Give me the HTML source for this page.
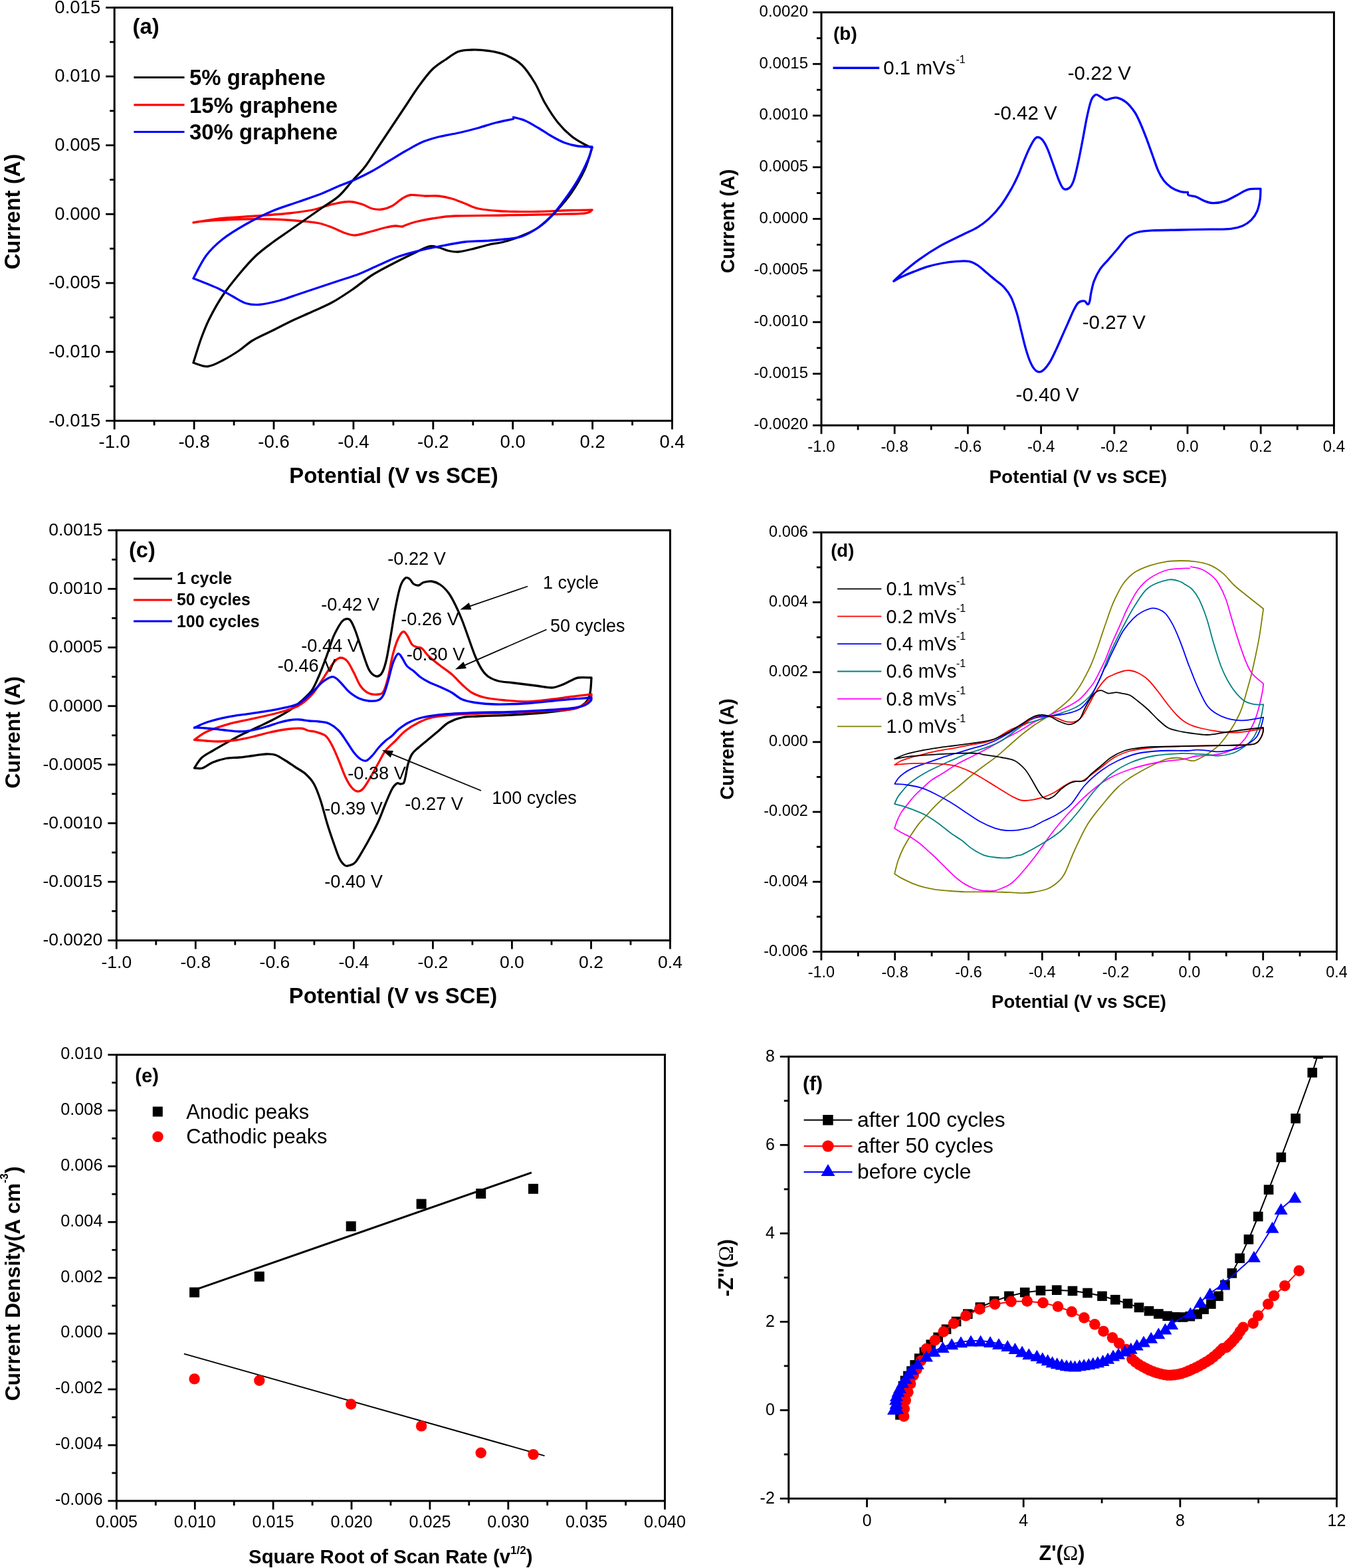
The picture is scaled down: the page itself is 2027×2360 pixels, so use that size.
<!DOCTYPE html><html><head><meta charset="utf-8"><title>Figure</title><style>html,body{margin:0;padding:0;background:#fff;}svg{display:block;}</style></head><body><svg width="2027" height="2360" viewBox="0 0 2027 2360">
<rect width="2027" height="2360" fill="#fff"/>
<rect x="172.2" y="11.4" width="839.3" height="621.9" fill="none" stroke="#000" stroke-width="3"/>
<line x1="172.2" y1="633.3" x2="172.2" y2="646.3" stroke="#000" stroke-width="2.8" stroke-linecap="butt"/>
<line x1="292.1" y1="633.3" x2="292.1" y2="646.3" stroke="#000" stroke-width="2.8" stroke-linecap="butt"/>
<line x1="412" y1="633.3" x2="412" y2="646.3" stroke="#000" stroke-width="2.8" stroke-linecap="butt"/>
<line x1="531.9" y1="633.3" x2="531.9" y2="646.3" stroke="#000" stroke-width="2.8" stroke-linecap="butt"/>
<line x1="651.8" y1="633.3" x2="651.8" y2="646.3" stroke="#000" stroke-width="2.8" stroke-linecap="butt"/>
<line x1="771.7" y1="633.3" x2="771.7" y2="646.3" stroke="#000" stroke-width="2.8" stroke-linecap="butt"/>
<line x1="891.6" y1="633.3" x2="891.6" y2="646.3" stroke="#000" stroke-width="2.8" stroke-linecap="butt"/>
<line x1="1011.5" y1="633.3" x2="1011.5" y2="646.3" stroke="#000" stroke-width="2.8" stroke-linecap="butt"/>
<line x1="232.1" y1="633.3" x2="232.1" y2="640.3" stroke="#000" stroke-width="2.8" stroke-linecap="butt"/>
<line x1="352.1" y1="633.3" x2="352.1" y2="640.3" stroke="#000" stroke-width="2.8" stroke-linecap="butt"/>
<line x1="471.9" y1="633.3" x2="471.9" y2="640.3" stroke="#000" stroke-width="2.8" stroke-linecap="butt"/>
<line x1="591.9" y1="633.3" x2="591.9" y2="640.3" stroke="#000" stroke-width="2.8" stroke-linecap="butt"/>
<line x1="711.8" y1="633.3" x2="711.8" y2="640.3" stroke="#000" stroke-width="2.8" stroke-linecap="butt"/>
<line x1="831.7" y1="633.3" x2="831.7" y2="640.3" stroke="#000" stroke-width="2.8" stroke-linecap="butt"/>
<line x1="951.6" y1="633.3" x2="951.6" y2="640.3" stroke="#000" stroke-width="2.8" stroke-linecap="butt"/>
<line x1="172.2" y1="633.3" x2="159.2" y2="633.3" stroke="#000" stroke-width="2.8" stroke-linecap="butt"/>
<line x1="172.2" y1="529.6" x2="159.2" y2="529.6" stroke="#000" stroke-width="2.8" stroke-linecap="butt"/>
<line x1="172.2" y1="426" x2="159.2" y2="426" stroke="#000" stroke-width="2.8" stroke-linecap="butt"/>
<line x1="172.2" y1="322.3" x2="159.2" y2="322.3" stroke="#000" stroke-width="2.8" stroke-linecap="butt"/>
<line x1="172.2" y1="218.7" x2="159.2" y2="218.7" stroke="#000" stroke-width="2.8" stroke-linecap="butt"/>
<line x1="172.2" y1="115" x2="159.2" y2="115" stroke="#000" stroke-width="2.8" stroke-linecap="butt"/>
<line x1="172.2" y1="11.4" x2="159.2" y2="11.4" stroke="#000" stroke-width="2.8" stroke-linecap="butt"/>
<line x1="172.2" y1="581.5" x2="165.2" y2="581.5" stroke="#000" stroke-width="2.8" stroke-linecap="butt"/>
<line x1="172.2" y1="477.8" x2="165.2" y2="477.8" stroke="#000" stroke-width="2.8" stroke-linecap="butt"/>
<line x1="172.2" y1="374.2" x2="165.2" y2="374.2" stroke="#000" stroke-width="2.8" stroke-linecap="butt"/>
<line x1="172.2" y1="270.5" x2="165.2" y2="270.5" stroke="#000" stroke-width="2.8" stroke-linecap="butt"/>
<line x1="172.2" y1="166.9" x2="165.2" y2="166.9" stroke="#000" stroke-width="2.8" stroke-linecap="butt"/>
<line x1="172.2" y1="63.2" x2="165.2" y2="63.2" stroke="#000" stroke-width="2.8" stroke-linecap="butt"/>
<text x="172.2" y="674.4" font-size="27.5" text-anchor="middle" font-family='"Liberation Sans", Arial, sans-serif'>-1.0</text>
<text x="292.1" y="674.4" font-size="27.5" text-anchor="middle" font-family='"Liberation Sans", Arial, sans-serif'>-0.8</text>
<text x="412" y="674.4" font-size="27.5" text-anchor="middle" font-family='"Liberation Sans", Arial, sans-serif'>-0.6</text>
<text x="531.9" y="674.4" font-size="27.5" text-anchor="middle" font-family='"Liberation Sans", Arial, sans-serif'>-0.4</text>
<text x="651.8" y="674.4" font-size="27.5" text-anchor="middle" font-family='"Liberation Sans", Arial, sans-serif'>-0.2</text>
<text x="771.7" y="674.4" font-size="27.5" text-anchor="middle" font-family='"Liberation Sans", Arial, sans-serif'>0.0</text>
<text x="891.6" y="674.4" font-size="27.5" text-anchor="middle" font-family='"Liberation Sans", Arial, sans-serif'>0.2</text>
<text x="1011.5" y="674.4" font-size="27.5" text-anchor="middle" font-family='"Liberation Sans", Arial, sans-serif'>0.4</text>
<text x="151.2" y="641.5" font-size="27.5" text-anchor="end" font-family='"Liberation Sans", Arial, sans-serif'>-0.015</text>
<text x="151.2" y="537.9" font-size="27.5" text-anchor="end" font-family='"Liberation Sans", Arial, sans-serif'>-0.010</text>
<text x="151.2" y="434.2" font-size="27.5" text-anchor="end" font-family='"Liberation Sans", Arial, sans-serif'>-0.005</text>
<text x="151.2" y="330.6" font-size="27.5" text-anchor="end" font-family='"Liberation Sans", Arial, sans-serif'>0.000</text>
<text x="151.2" y="226.9" font-size="27.5" text-anchor="end" font-family='"Liberation Sans", Arial, sans-serif'>0.005</text>
<text x="151.2" y="123.3" font-size="27.5" text-anchor="end" font-family='"Liberation Sans", Arial, sans-serif'>0.010</text>
<text x="151.2" y="19.6" font-size="27.5" text-anchor="end" font-family='"Liberation Sans", Arial, sans-serif'>0.015</text>
<rect x="1236" y="18.6" width="771.4" height="621.6" fill="none" stroke="#000" stroke-width="3"/>
<line x1="1236" y1="640.2" x2="1236" y2="653.2" stroke="#000" stroke-width="2.8" stroke-linecap="butt"/>
<line x1="1346.2" y1="640.2" x2="1346.2" y2="653.2" stroke="#000" stroke-width="2.8" stroke-linecap="butt"/>
<line x1="1456.4" y1="640.2" x2="1456.4" y2="653.2" stroke="#000" stroke-width="2.8" stroke-linecap="butt"/>
<line x1="1566.6" y1="640.2" x2="1566.6" y2="653.2" stroke="#000" stroke-width="2.8" stroke-linecap="butt"/>
<line x1="1676.8" y1="640.2" x2="1676.8" y2="653.2" stroke="#000" stroke-width="2.8" stroke-linecap="butt"/>
<line x1="1787" y1="640.2" x2="1787" y2="653.2" stroke="#000" stroke-width="2.8" stroke-linecap="butt"/>
<line x1="1897.2" y1="640.2" x2="1897.2" y2="653.2" stroke="#000" stroke-width="2.8" stroke-linecap="butt"/>
<line x1="2007.4" y1="640.2" x2="2007.4" y2="653.2" stroke="#000" stroke-width="2.8" stroke-linecap="butt"/>
<line x1="1291.1" y1="640.2" x2="1291.1" y2="647.2" stroke="#000" stroke-width="2.8" stroke-linecap="butt"/>
<line x1="1401.3" y1="640.2" x2="1401.3" y2="647.2" stroke="#000" stroke-width="2.8" stroke-linecap="butt"/>
<line x1="1511.5" y1="640.2" x2="1511.5" y2="647.2" stroke="#000" stroke-width="2.8" stroke-linecap="butt"/>
<line x1="1621.7" y1="640.2" x2="1621.7" y2="647.2" stroke="#000" stroke-width="2.8" stroke-linecap="butt"/>
<line x1="1731.9" y1="640.2" x2="1731.9" y2="647.2" stroke="#000" stroke-width="2.8" stroke-linecap="butt"/>
<line x1="1842.1" y1="640.2" x2="1842.1" y2="647.2" stroke="#000" stroke-width="2.8" stroke-linecap="butt"/>
<line x1="1952.3" y1="640.2" x2="1952.3" y2="647.2" stroke="#000" stroke-width="2.8" stroke-linecap="butt"/>
<line x1="1236" y1="640.2" x2="1223" y2="640.2" stroke="#000" stroke-width="2.8" stroke-linecap="butt"/>
<line x1="1236" y1="562.5" x2="1223" y2="562.5" stroke="#000" stroke-width="2.8" stroke-linecap="butt"/>
<line x1="1236" y1="484.8" x2="1223" y2="484.8" stroke="#000" stroke-width="2.8" stroke-linecap="butt"/>
<line x1="1236" y1="407.1" x2="1223" y2="407.1" stroke="#000" stroke-width="2.8" stroke-linecap="butt"/>
<line x1="1236" y1="329.4" x2="1223" y2="329.4" stroke="#000" stroke-width="2.8" stroke-linecap="butt"/>
<line x1="1236" y1="251.7" x2="1223" y2="251.7" stroke="#000" stroke-width="2.8" stroke-linecap="butt"/>
<line x1="1236" y1="174" x2="1223" y2="174" stroke="#000" stroke-width="2.8" stroke-linecap="butt"/>
<line x1="1236" y1="96.3" x2="1223" y2="96.3" stroke="#000" stroke-width="2.8" stroke-linecap="butt"/>
<line x1="1236" y1="18.6" x2="1223" y2="18.6" stroke="#000" stroke-width="2.8" stroke-linecap="butt"/>
<line x1="1236" y1="601.4" x2="1229" y2="601.4" stroke="#000" stroke-width="2.8" stroke-linecap="butt"/>
<line x1="1236" y1="523.7" x2="1229" y2="523.7" stroke="#000" stroke-width="2.8" stroke-linecap="butt"/>
<line x1="1236" y1="446" x2="1229" y2="446" stroke="#000" stroke-width="2.8" stroke-linecap="butt"/>
<line x1="1236" y1="368.3" x2="1229" y2="368.3" stroke="#000" stroke-width="2.8" stroke-linecap="butt"/>
<line x1="1236" y1="290.6" x2="1229" y2="290.6" stroke="#000" stroke-width="2.8" stroke-linecap="butt"/>
<line x1="1236" y1="212.9" x2="1229" y2="212.9" stroke="#000" stroke-width="2.8" stroke-linecap="butt"/>
<line x1="1236" y1="135.2" x2="1229" y2="135.2" stroke="#000" stroke-width="2.8" stroke-linecap="butt"/>
<line x1="1236" y1="57.5" x2="1229" y2="57.5" stroke="#000" stroke-width="2.8" stroke-linecap="butt"/>
<text x="1236" y="679.5" font-size="24" text-anchor="middle" font-family='"Liberation Sans", Arial, sans-serif'>-1.0</text>
<text x="1346.2" y="679.5" font-size="24" text-anchor="middle" font-family='"Liberation Sans", Arial, sans-serif'>-0.8</text>
<text x="1456.4" y="679.5" font-size="24" text-anchor="middle" font-family='"Liberation Sans", Arial, sans-serif'>-0.6</text>
<text x="1566.6" y="679.5" font-size="24" text-anchor="middle" font-family='"Liberation Sans", Arial, sans-serif'>-0.4</text>
<text x="1676.8" y="679.5" font-size="24" text-anchor="middle" font-family='"Liberation Sans", Arial, sans-serif'>-0.2</text>
<text x="1787" y="679.5" font-size="24" text-anchor="middle" font-family='"Liberation Sans", Arial, sans-serif'>0.0</text>
<text x="1897.2" y="679.5" font-size="24" text-anchor="middle" font-family='"Liberation Sans", Arial, sans-serif'>0.2</text>
<text x="2007.4" y="679.5" font-size="24" text-anchor="middle" font-family='"Liberation Sans", Arial, sans-serif'>0.4</text>
<text x="1216" y="646.4" font-size="24" text-anchor="end" font-family='"Liberation Sans", Arial, sans-serif'>-0.0020</text>
<text x="1216" y="568.7" font-size="24" text-anchor="end" font-family='"Liberation Sans", Arial, sans-serif'>-0.0015</text>
<text x="1216" y="491" font-size="24" text-anchor="end" font-family='"Liberation Sans", Arial, sans-serif'>-0.0010</text>
<text x="1216" y="413.3" font-size="24" text-anchor="end" font-family='"Liberation Sans", Arial, sans-serif'>-0.0005</text>
<text x="1216" y="335.6" font-size="24" text-anchor="end" font-family='"Liberation Sans", Arial, sans-serif'>0.0000</text>
<text x="1216" y="257.9" font-size="24" text-anchor="end" font-family='"Liberation Sans", Arial, sans-serif'>0.0005</text>
<text x="1216" y="180.2" font-size="24" text-anchor="end" font-family='"Liberation Sans", Arial, sans-serif'>0.0010</text>
<text x="1216" y="102.5" font-size="24" text-anchor="end" font-family='"Liberation Sans", Arial, sans-serif'>0.0015</text>
<text x="1216" y="24.8" font-size="24" text-anchor="end" font-family='"Liberation Sans", Arial, sans-serif'>0.0020</text>
<rect x="175.3" y="798.1" width="833.2" height="617.3" fill="none" stroke="#000" stroke-width="3"/>
<line x1="175.3" y1="1415.4" x2="175.3" y2="1428.4" stroke="#000" stroke-width="2.8" stroke-linecap="butt"/>
<line x1="294.3" y1="1415.4" x2="294.3" y2="1428.4" stroke="#000" stroke-width="2.8" stroke-linecap="butt"/>
<line x1="413.4" y1="1415.4" x2="413.4" y2="1428.4" stroke="#000" stroke-width="2.8" stroke-linecap="butt"/>
<line x1="532.4" y1="1415.4" x2="532.4" y2="1428.4" stroke="#000" stroke-width="2.8" stroke-linecap="butt"/>
<line x1="651.4" y1="1415.4" x2="651.4" y2="1428.4" stroke="#000" stroke-width="2.8" stroke-linecap="butt"/>
<line x1="770.4" y1="1415.4" x2="770.4" y2="1428.4" stroke="#000" stroke-width="2.8" stroke-linecap="butt"/>
<line x1="889.5" y1="1415.4" x2="889.5" y2="1428.4" stroke="#000" stroke-width="2.8" stroke-linecap="butt"/>
<line x1="1008.5" y1="1415.4" x2="1008.5" y2="1428.4" stroke="#000" stroke-width="2.8" stroke-linecap="butt"/>
<line x1="234.8" y1="1415.4" x2="234.8" y2="1422.4" stroke="#000" stroke-width="2.8" stroke-linecap="butt"/>
<line x1="353.8" y1="1415.4" x2="353.8" y2="1422.4" stroke="#000" stroke-width="2.8" stroke-linecap="butt"/>
<line x1="472.9" y1="1415.4" x2="472.9" y2="1422.4" stroke="#000" stroke-width="2.8" stroke-linecap="butt"/>
<line x1="591.9" y1="1415.4" x2="591.9" y2="1422.4" stroke="#000" stroke-width="2.8" stroke-linecap="butt"/>
<line x1="710.9" y1="1415.4" x2="710.9" y2="1422.4" stroke="#000" stroke-width="2.8" stroke-linecap="butt"/>
<line x1="830" y1="1415.4" x2="830" y2="1422.4" stroke="#000" stroke-width="2.8" stroke-linecap="butt"/>
<line x1="949" y1="1415.4" x2="949" y2="1422.4" stroke="#000" stroke-width="2.8" stroke-linecap="butt"/>
<line x1="175.3" y1="1415.4" x2="162.3" y2="1415.4" stroke="#000" stroke-width="2.8" stroke-linecap="butt"/>
<line x1="175.3" y1="1327.2" x2="162.3" y2="1327.2" stroke="#000" stroke-width="2.8" stroke-linecap="butt"/>
<line x1="175.3" y1="1239" x2="162.3" y2="1239" stroke="#000" stroke-width="2.8" stroke-linecap="butt"/>
<line x1="175.3" y1="1150.8" x2="162.3" y2="1150.8" stroke="#000" stroke-width="2.8" stroke-linecap="butt"/>
<line x1="175.3" y1="1062.7" x2="162.3" y2="1062.7" stroke="#000" stroke-width="2.8" stroke-linecap="butt"/>
<line x1="175.3" y1="974.5" x2="162.3" y2="974.5" stroke="#000" stroke-width="2.8" stroke-linecap="butt"/>
<line x1="175.3" y1="886.3" x2="162.3" y2="886.3" stroke="#000" stroke-width="2.8" stroke-linecap="butt"/>
<line x1="175.3" y1="798.1" x2="162.3" y2="798.1" stroke="#000" stroke-width="2.8" stroke-linecap="butt"/>
<line x1="175.3" y1="1371.3" x2="168.3" y2="1371.3" stroke="#000" stroke-width="2.8" stroke-linecap="butt"/>
<line x1="175.3" y1="1283.1" x2="168.3" y2="1283.1" stroke="#000" stroke-width="2.8" stroke-linecap="butt"/>
<line x1="175.3" y1="1194.9" x2="168.3" y2="1194.9" stroke="#000" stroke-width="2.8" stroke-linecap="butt"/>
<line x1="175.3" y1="1106.8" x2="168.3" y2="1106.8" stroke="#000" stroke-width="2.8" stroke-linecap="butt"/>
<line x1="175.3" y1="1018.6" x2="168.3" y2="1018.6" stroke="#000" stroke-width="2.8" stroke-linecap="butt"/>
<line x1="175.3" y1="930.4" x2="168.3" y2="930.4" stroke="#000" stroke-width="2.8" stroke-linecap="butt"/>
<line x1="175.3" y1="842.2" x2="168.3" y2="842.2" stroke="#000" stroke-width="2.8" stroke-linecap="butt"/>
<text x="175.3" y="1456.5" font-size="26.5" text-anchor="middle" font-family='"Liberation Sans", Arial, sans-serif'>-1.0</text>
<text x="294.3" y="1456.5" font-size="26.5" text-anchor="middle" font-family='"Liberation Sans", Arial, sans-serif'>-0.8</text>
<text x="413.4" y="1456.5" font-size="26.5" text-anchor="middle" font-family='"Liberation Sans", Arial, sans-serif'>-0.6</text>
<text x="532.4" y="1456.5" font-size="26.5" text-anchor="middle" font-family='"Liberation Sans", Arial, sans-serif'>-0.4</text>
<text x="651.4" y="1456.5" font-size="26.5" text-anchor="middle" font-family='"Liberation Sans", Arial, sans-serif'>-0.2</text>
<text x="770.4" y="1456.5" font-size="26.5" text-anchor="middle" font-family='"Liberation Sans", Arial, sans-serif'>0.0</text>
<text x="889.5" y="1456.5" font-size="26.5" text-anchor="middle" font-family='"Liberation Sans", Arial, sans-serif'>0.2</text>
<text x="1008.5" y="1456.5" font-size="26.5" text-anchor="middle" font-family='"Liberation Sans", Arial, sans-serif'>0.4</text>
<text x="154.3" y="1423.3" font-size="26.5" text-anchor="end" font-family='"Liberation Sans", Arial, sans-serif'>-0.0020</text>
<text x="154.3" y="1335.1" font-size="26.5" text-anchor="end" font-family='"Liberation Sans", Arial, sans-serif'>-0.0015</text>
<text x="154.3" y="1246.9" font-size="26.5" text-anchor="end" font-family='"Liberation Sans", Arial, sans-serif'>-0.0010</text>
<text x="154.3" y="1158.7" font-size="26.5" text-anchor="end" font-family='"Liberation Sans", Arial, sans-serif'>-0.0005</text>
<text x="154.3" y="1070.5" font-size="26.5" text-anchor="end" font-family='"Liberation Sans", Arial, sans-serif'>0.0000</text>
<text x="154.3" y="982.4" font-size="26.5" text-anchor="end" font-family='"Liberation Sans", Arial, sans-serif'>0.0005</text>
<text x="154.3" y="894.2" font-size="26.5" text-anchor="end" font-family='"Liberation Sans", Arial, sans-serif'>0.0010</text>
<text x="154.3" y="806" font-size="26.5" text-anchor="end" font-family='"Liberation Sans", Arial, sans-serif'>0.0015</text>
<rect x="1235.9" y="801.3" width="775.6" height="631.1" fill="none" stroke="#000" stroke-width="3"/>
<line x1="1235.9" y1="1432.4" x2="1235.9" y2="1445.4" stroke="#000" stroke-width="2.8" stroke-linecap="butt"/>
<line x1="1346.7" y1="1432.4" x2="1346.7" y2="1445.4" stroke="#000" stroke-width="2.8" stroke-linecap="butt"/>
<line x1="1457.5" y1="1432.4" x2="1457.5" y2="1445.4" stroke="#000" stroke-width="2.8" stroke-linecap="butt"/>
<line x1="1568.3" y1="1432.4" x2="1568.3" y2="1445.4" stroke="#000" stroke-width="2.8" stroke-linecap="butt"/>
<line x1="1679.1" y1="1432.4" x2="1679.1" y2="1445.4" stroke="#000" stroke-width="2.8" stroke-linecap="butt"/>
<line x1="1789.9" y1="1432.4" x2="1789.9" y2="1445.4" stroke="#000" stroke-width="2.8" stroke-linecap="butt"/>
<line x1="1900.7" y1="1432.4" x2="1900.7" y2="1445.4" stroke="#000" stroke-width="2.8" stroke-linecap="butt"/>
<line x1="2011.5" y1="1432.4" x2="2011.5" y2="1445.4" stroke="#000" stroke-width="2.8" stroke-linecap="butt"/>
<line x1="1291.3" y1="1432.4" x2="1291.3" y2="1439.4" stroke="#000" stroke-width="2.8" stroke-linecap="butt"/>
<line x1="1402.1" y1="1432.4" x2="1402.1" y2="1439.4" stroke="#000" stroke-width="2.8" stroke-linecap="butt"/>
<line x1="1512.9" y1="1432.4" x2="1512.9" y2="1439.4" stroke="#000" stroke-width="2.8" stroke-linecap="butt"/>
<line x1="1623.7" y1="1432.4" x2="1623.7" y2="1439.4" stroke="#000" stroke-width="2.8" stroke-linecap="butt"/>
<line x1="1734.5" y1="1432.4" x2="1734.5" y2="1439.4" stroke="#000" stroke-width="2.8" stroke-linecap="butt"/>
<line x1="1845.3" y1="1432.4" x2="1845.3" y2="1439.4" stroke="#000" stroke-width="2.8" stroke-linecap="butt"/>
<line x1="1956.1" y1="1432.4" x2="1956.1" y2="1439.4" stroke="#000" stroke-width="2.8" stroke-linecap="butt"/>
<line x1="1235.9" y1="1432.4" x2="1222.9" y2="1432.4" stroke="#000" stroke-width="2.8" stroke-linecap="butt"/>
<line x1="1235.9" y1="1327.2" x2="1222.9" y2="1327.2" stroke="#000" stroke-width="2.8" stroke-linecap="butt"/>
<line x1="1235.9" y1="1222" x2="1222.9" y2="1222" stroke="#000" stroke-width="2.8" stroke-linecap="butt"/>
<line x1="1235.9" y1="1116.8" x2="1222.9" y2="1116.8" stroke="#000" stroke-width="2.8" stroke-linecap="butt"/>
<line x1="1235.9" y1="1011.7" x2="1222.9" y2="1011.7" stroke="#000" stroke-width="2.8" stroke-linecap="butt"/>
<line x1="1235.9" y1="906.5" x2="1222.9" y2="906.5" stroke="#000" stroke-width="2.8" stroke-linecap="butt"/>
<line x1="1235.9" y1="801.3" x2="1222.9" y2="801.3" stroke="#000" stroke-width="2.8" stroke-linecap="butt"/>
<line x1="1235.9" y1="1379.8" x2="1228.9" y2="1379.8" stroke="#000" stroke-width="2.8" stroke-linecap="butt"/>
<line x1="1235.9" y1="1274.6" x2="1228.9" y2="1274.6" stroke="#000" stroke-width="2.8" stroke-linecap="butt"/>
<line x1="1235.9" y1="1169.4" x2="1228.9" y2="1169.4" stroke="#000" stroke-width="2.8" stroke-linecap="butt"/>
<line x1="1235.9" y1="1064.3" x2="1228.9" y2="1064.3" stroke="#000" stroke-width="2.8" stroke-linecap="butt"/>
<line x1="1235.9" y1="959.1" x2="1228.9" y2="959.1" stroke="#000" stroke-width="2.8" stroke-linecap="butt"/>
<line x1="1235.9" y1="853.9" x2="1228.9" y2="853.9" stroke="#000" stroke-width="2.8" stroke-linecap="butt"/>
<text x="1235.9" y="1470.6" font-size="23.5" text-anchor="middle" font-family='"Liberation Sans", Arial, sans-serif'>-1.0</text>
<text x="1346.7" y="1470.6" font-size="23.5" text-anchor="middle" font-family='"Liberation Sans", Arial, sans-serif'>-0.8</text>
<text x="1457.5" y="1470.6" font-size="23.5" text-anchor="middle" font-family='"Liberation Sans", Arial, sans-serif'>-0.6</text>
<text x="1568.3" y="1470.6" font-size="23.5" text-anchor="middle" font-family='"Liberation Sans", Arial, sans-serif'>-0.4</text>
<text x="1679.1" y="1470.6" font-size="23.5" text-anchor="middle" font-family='"Liberation Sans", Arial, sans-serif'>-0.2</text>
<text x="1789.9" y="1470.6" font-size="23.5" text-anchor="middle" font-family='"Liberation Sans", Arial, sans-serif'>0.0</text>
<text x="1900.7" y="1470.6" font-size="23.5" text-anchor="middle" font-family='"Liberation Sans", Arial, sans-serif'>0.2</text>
<text x="2011.5" y="1470.6" font-size="23.5" text-anchor="middle" font-family='"Liberation Sans", Arial, sans-serif'>0.4</text>
<text x="1215.9" y="1438.7" font-size="23.5" text-anchor="end" font-family='"Liberation Sans", Arial, sans-serif'>-0.006</text>
<text x="1215.9" y="1333.5" font-size="23.5" text-anchor="end" font-family='"Liberation Sans", Arial, sans-serif'>-0.004</text>
<text x="1215.9" y="1228.3" font-size="23.5" text-anchor="end" font-family='"Liberation Sans", Arial, sans-serif'>-0.002</text>
<text x="1215.9" y="1123.2" font-size="23.5" text-anchor="end" font-family='"Liberation Sans", Arial, sans-serif'>0.000</text>
<text x="1215.9" y="1018" font-size="23.5" text-anchor="end" font-family='"Liberation Sans", Arial, sans-serif'>0.002</text>
<text x="1215.9" y="912.8" font-size="23.5" text-anchor="end" font-family='"Liberation Sans", Arial, sans-serif'>0.004</text>
<text x="1215.9" y="807.6" font-size="23.5" text-anchor="end" font-family='"Liberation Sans", Arial, sans-serif'>0.006</text>
<rect x="175.4" y="1587.5" width="825.1" height="671.5" fill="none" stroke="#000" stroke-width="3"/>
<line x1="175.4" y1="2259" x2="175.4" y2="2272" stroke="#000" stroke-width="2.8" stroke-linecap="butt"/>
<line x1="293.3" y1="2259" x2="293.3" y2="2272" stroke="#000" stroke-width="2.8" stroke-linecap="butt"/>
<line x1="411.1" y1="2259" x2="411.1" y2="2272" stroke="#000" stroke-width="2.8" stroke-linecap="butt"/>
<line x1="529" y1="2259" x2="529" y2="2272" stroke="#000" stroke-width="2.8" stroke-linecap="butt"/>
<line x1="646.9" y1="2259" x2="646.9" y2="2272" stroke="#000" stroke-width="2.8" stroke-linecap="butt"/>
<line x1="764.8" y1="2259" x2="764.8" y2="2272" stroke="#000" stroke-width="2.8" stroke-linecap="butt"/>
<line x1="882.6" y1="2259" x2="882.6" y2="2272" stroke="#000" stroke-width="2.8" stroke-linecap="butt"/>
<line x1="1000.5" y1="2259" x2="1000.5" y2="2272" stroke="#000" stroke-width="2.8" stroke-linecap="butt"/>
<line x1="234.3" y1="2259" x2="234.3" y2="2266" stroke="#000" stroke-width="2.8" stroke-linecap="butt"/>
<line x1="352.2" y1="2259" x2="352.2" y2="2266" stroke="#000" stroke-width="2.8" stroke-linecap="butt"/>
<line x1="470.1" y1="2259" x2="470.1" y2="2266" stroke="#000" stroke-width="2.8" stroke-linecap="butt"/>
<line x1="587.9" y1="2259" x2="587.9" y2="2266" stroke="#000" stroke-width="2.8" stroke-linecap="butt"/>
<line x1="705.8" y1="2259" x2="705.8" y2="2266" stroke="#000" stroke-width="2.8" stroke-linecap="butt"/>
<line x1="823.7" y1="2259" x2="823.7" y2="2266" stroke="#000" stroke-width="2.8" stroke-linecap="butt"/>
<line x1="941.6" y1="2259" x2="941.6" y2="2266" stroke="#000" stroke-width="2.8" stroke-linecap="butt"/>
<line x1="175.4" y1="2259" x2="162.4" y2="2259" stroke="#000" stroke-width="2.8" stroke-linecap="butt"/>
<line x1="175.4" y1="2175.1" x2="162.4" y2="2175.1" stroke="#000" stroke-width="2.8" stroke-linecap="butt"/>
<line x1="175.4" y1="2091.1" x2="162.4" y2="2091.1" stroke="#000" stroke-width="2.8" stroke-linecap="butt"/>
<line x1="175.4" y1="2007.2" x2="162.4" y2="2007.2" stroke="#000" stroke-width="2.8" stroke-linecap="butt"/>
<line x1="175.4" y1="1923.2" x2="162.4" y2="1923.2" stroke="#000" stroke-width="2.8" stroke-linecap="butt"/>
<line x1="175.4" y1="1839.3" x2="162.4" y2="1839.3" stroke="#000" stroke-width="2.8" stroke-linecap="butt"/>
<line x1="175.4" y1="1755.4" x2="162.4" y2="1755.4" stroke="#000" stroke-width="2.8" stroke-linecap="butt"/>
<line x1="175.4" y1="1671.4" x2="162.4" y2="1671.4" stroke="#000" stroke-width="2.8" stroke-linecap="butt"/>
<line x1="175.4" y1="1587.5" x2="162.4" y2="1587.5" stroke="#000" stroke-width="2.8" stroke-linecap="butt"/>
<line x1="175.4" y1="2217" x2="168.4" y2="2217" stroke="#000" stroke-width="2.8" stroke-linecap="butt"/>
<line x1="175.4" y1="2133.1" x2="168.4" y2="2133.1" stroke="#000" stroke-width="2.8" stroke-linecap="butt"/>
<line x1="175.4" y1="2049.2" x2="168.4" y2="2049.2" stroke="#000" stroke-width="2.8" stroke-linecap="butt"/>
<line x1="175.4" y1="1965.2" x2="168.4" y2="1965.2" stroke="#000" stroke-width="2.8" stroke-linecap="butt"/>
<line x1="175.4" y1="1881.3" x2="168.4" y2="1881.3" stroke="#000" stroke-width="2.8" stroke-linecap="butt"/>
<line x1="175.4" y1="1797.3" x2="168.4" y2="1797.3" stroke="#000" stroke-width="2.8" stroke-linecap="butt"/>
<line x1="175.4" y1="1713.4" x2="168.4" y2="1713.4" stroke="#000" stroke-width="2.8" stroke-linecap="butt"/>
<line x1="175.4" y1="1629.5" x2="168.4" y2="1629.5" stroke="#000" stroke-width="2.8" stroke-linecap="butt"/>
<text x="175.4" y="2299.3" font-size="25.2" text-anchor="middle" font-family='"Liberation Sans", Arial, sans-serif'>0.005</text>
<text x="293.3" y="2299.3" font-size="25.2" text-anchor="middle" font-family='"Liberation Sans", Arial, sans-serif'>0.010</text>
<text x="411.1" y="2299.3" font-size="25.2" text-anchor="middle" font-family='"Liberation Sans", Arial, sans-serif'>0.015</text>
<text x="529" y="2299.3" font-size="25.2" text-anchor="middle" font-family='"Liberation Sans", Arial, sans-serif'>0.020</text>
<text x="646.9" y="2299.3" font-size="25.2" text-anchor="middle" font-family='"Liberation Sans", Arial, sans-serif'>0.025</text>
<text x="764.8" y="2299.3" font-size="25.2" text-anchor="middle" font-family='"Liberation Sans", Arial, sans-serif'>0.030</text>
<text x="882.6" y="2299.3" font-size="25.2" text-anchor="middle" font-family='"Liberation Sans", Arial, sans-serif'>0.035</text>
<text x="1000.5" y="2299.3" font-size="25.2" text-anchor="middle" font-family='"Liberation Sans", Arial, sans-serif'>0.040</text>
<text x="154.4" y="2265.2" font-size="25.2" text-anchor="end" font-family='"Liberation Sans", Arial, sans-serif'>-0.006</text>
<text x="154.4" y="2181.3" font-size="25.2" text-anchor="end" font-family='"Liberation Sans", Arial, sans-serif'>-0.004</text>
<text x="154.4" y="2097.3" font-size="25.2" text-anchor="end" font-family='"Liberation Sans", Arial, sans-serif'>-0.002</text>
<text x="154.4" y="2013.4" font-size="25.2" text-anchor="end" font-family='"Liberation Sans", Arial, sans-serif'>0.000</text>
<text x="154.4" y="1929.5" font-size="25.2" text-anchor="end" font-family='"Liberation Sans", Arial, sans-serif'>0.002</text>
<text x="154.4" y="1845.5" font-size="25.2" text-anchor="end" font-family='"Liberation Sans", Arial, sans-serif'>0.004</text>
<text x="154.4" y="1761.6" font-size="25.2" text-anchor="end" font-family='"Liberation Sans", Arial, sans-serif'>0.006</text>
<text x="154.4" y="1677.7" font-size="25.2" text-anchor="end" font-family='"Liberation Sans", Arial, sans-serif'>0.008</text>
<text x="154.4" y="1593.7" font-size="25.2" text-anchor="end" font-family='"Liberation Sans", Arial, sans-serif'>0.010</text>
<rect x="1186.8" y="1590.3" width="824.7" height="665.2" fill="none" stroke="#000" stroke-width="3"/>
<line x1="1304.6" y1="2255.5" x2="1304.6" y2="2268.5" stroke="#000" stroke-width="2.8" stroke-linecap="butt"/>
<line x1="1540.2" y1="2255.5" x2="1540.2" y2="2268.5" stroke="#000" stroke-width="2.8" stroke-linecap="butt"/>
<line x1="1775.9" y1="2255.5" x2="1775.9" y2="2268.5" stroke="#000" stroke-width="2.8" stroke-linecap="butt"/>
<line x1="2011.5" y1="2255.5" x2="2011.5" y2="2268.5" stroke="#000" stroke-width="2.8" stroke-linecap="butt"/>
<line x1="1186.8" y1="2255.5" x2="1186.8" y2="2262.5" stroke="#000" stroke-width="2.8" stroke-linecap="butt"/>
<line x1="1422.4" y1="2255.5" x2="1422.4" y2="2262.5" stroke="#000" stroke-width="2.8" stroke-linecap="butt"/>
<line x1="1658.1" y1="2255.5" x2="1658.1" y2="2262.5" stroke="#000" stroke-width="2.8" stroke-linecap="butt"/>
<line x1="1893.7" y1="2255.5" x2="1893.7" y2="2262.5" stroke="#000" stroke-width="2.8" stroke-linecap="butt"/>
<line x1="1186.8" y1="2255.5" x2="1173.8" y2="2255.5" stroke="#000" stroke-width="2.8" stroke-linecap="butt"/>
<line x1="1186.8" y1="2122.5" x2="1173.8" y2="2122.5" stroke="#000" stroke-width="2.8" stroke-linecap="butt"/>
<line x1="1186.8" y1="1989.4" x2="1173.8" y2="1989.4" stroke="#000" stroke-width="2.8" stroke-linecap="butt"/>
<line x1="1186.8" y1="1856.4" x2="1173.8" y2="1856.4" stroke="#000" stroke-width="2.8" stroke-linecap="butt"/>
<line x1="1186.8" y1="1723.3" x2="1173.8" y2="1723.3" stroke="#000" stroke-width="2.8" stroke-linecap="butt"/>
<line x1="1186.8" y1="1590.3" x2="1173.8" y2="1590.3" stroke="#000" stroke-width="2.8" stroke-linecap="butt"/>
<line x1="1186.8" y1="2189" x2="1179.8" y2="2189" stroke="#000" stroke-width="2.8" stroke-linecap="butt"/>
<line x1="1186.8" y1="2055.9" x2="1179.8" y2="2055.9" stroke="#000" stroke-width="2.8" stroke-linecap="butt"/>
<line x1="1186.8" y1="1922.9" x2="1179.8" y2="1922.9" stroke="#000" stroke-width="2.8" stroke-linecap="butt"/>
<line x1="1186.8" y1="1789.9" x2="1179.8" y2="1789.9" stroke="#000" stroke-width="2.8" stroke-linecap="butt"/>
<line x1="1186.8" y1="1656.8" x2="1179.8" y2="1656.8" stroke="#000" stroke-width="2.8" stroke-linecap="butt"/>
<text x="1304.6" y="2296.8" font-size="25" text-anchor="middle" font-family='"Liberation Sans", Arial, sans-serif'>0</text>
<text x="1540.2" y="2296.8" font-size="25" text-anchor="middle" font-family='"Liberation Sans", Arial, sans-serif'>4</text>
<text x="1775.9" y="2296.8" font-size="25" text-anchor="middle" font-family='"Liberation Sans", Arial, sans-serif'>8</text>
<text x="2011.5" y="2296.8" font-size="25" text-anchor="middle" font-family='"Liberation Sans", Arial, sans-serif'>12</text>
<text x="1165.8" y="2262.6" font-size="25" text-anchor="end" font-family='"Liberation Sans", Arial, sans-serif'>-2</text>
<text x="1165.8" y="2129.6" font-size="25" text-anchor="end" font-family='"Liberation Sans", Arial, sans-serif'>0</text>
<text x="1165.8" y="1996.6" font-size="25" text-anchor="end" font-family='"Liberation Sans", Arial, sans-serif'>2</text>
<text x="1165.8" y="1863.5" font-size="25" text-anchor="end" font-family='"Liberation Sans", Arial, sans-serif'>4</text>
<text x="1165.8" y="1730.5" font-size="25" text-anchor="end" font-family='"Liberation Sans", Arial, sans-serif'>6</text>
<text x="1165.8" y="1597.5" font-size="25" text-anchor="end" font-family='"Liberation Sans", Arial, sans-serif'>8</text>
<text transform="translate(29.5,318.5) rotate(-90)" x="0" y="0" font-size="33" font-weight="bold" text-anchor="middle" font-family='"Liberation Sans", Arial, sans-serif'>Current (A)</text>
<text x="592.5" y="727" font-size="32.9" text-anchor="middle" font-weight="bold" font-family='"Liberation Sans", Arial, sans-serif'>Potential (V vs SCE)</text>
<text transform="translate(1104.8,333) rotate(-90)" x="0" y="0" font-size="29.7" font-weight="bold" text-anchor="middle" font-family='"Liberation Sans", Arial, sans-serif'>Current (A)</text>
<text x="1622.2" y="726.7" font-size="28" text-anchor="middle" font-weight="bold" font-family='"Liberation Sans", Arial, sans-serif'>Potential (V vs SCE)</text>
<text transform="translate(29.7,1102.2) rotate(-90)" x="0" y="0" font-size="32" font-weight="bold" text-anchor="middle" font-family='"Liberation Sans", Arial, sans-serif'>Current (A)</text>
<text x="591.5" y="1510.4" font-size="32.8" text-anchor="middle" font-weight="bold" font-family='"Liberation Sans", Arial, sans-serif'>Potential (V vs SCE)</text>
<text transform="translate(1104.2,1127.6) rotate(-90)" x="0" y="0" font-size="28.9" font-weight="bold" text-anchor="middle" font-family='"Liberation Sans", Arial, sans-serif'>Current (A)</text>
<text x="1623.5" y="1517.4" font-size="27.5" text-anchor="middle" font-weight="bold" font-family='"Liberation Sans", Arial, sans-serif'>Potential (V vs SCE)</text>
<text transform="translate(29.5,1932) rotate(-90)" x="0" y="0" font-size="32" font-weight="bold" text-anchor="middle" font-family='"Liberation Sans", Arial, sans-serif'>Current Density(A cm<tspan dy="-18" font-size="16.5">-3</tspan><tspan dy="18">)</tspan></text>
<text x="587.8" y="2352.7" font-size="29.3" text-anchor="middle" font-weight="bold" font-family='"Liberation Sans", Arial, sans-serif'>Square Root of Scan Rate (v<tspan dy="-14" font-size="17">1/2</tspan><tspan dy="14">)</tspan></text>
<text transform="translate(1103.1,1908.3) rotate(-90)" x="0" y="0" font-size="30.6" font-weight="bold" text-anchor="middle" font-family='"Liberation Sans", Arial, sans-serif'>-Z''(<tspan font-family='"Liberation Serif", "Times New Roman", serif' font-weight="normal">&#937;</tspan>)</text>
<text x="1598" y="2347.9" font-size="30.6" text-anchor="middle" font-weight="bold" font-family='"Liberation Sans", Arial, sans-serif'>Z'(<tspan font-family='"Liberation Serif", "Times New Roman", serif' font-weight="normal">&#937;</tspan>)</text>
<text x="199.5" y="51.3" font-size="33" text-anchor="start" font-weight="bold" font-family='"Liberation Sans", Arial, sans-serif'>(a)</text>
<text x="1254" y="59.7" font-size="28" text-anchor="start" font-weight="bold" font-family='"Liberation Sans", Arial, sans-serif'>(b)</text>
<text x="194" y="838.9" font-size="32.5" text-anchor="start" font-weight="bold" font-family='"Liberation Sans", Arial, sans-serif'>(c)</text>
<text x="1250.2" y="837.5" font-size="27.5" text-anchor="start" font-weight="bold" font-family='"Liberation Sans", Arial, sans-serif'>(d)</text>
<text x="203.2" y="1628.5" font-size="29.2" text-anchor="start" font-weight="bold" font-family='"Liberation Sans", Arial, sans-serif'>(e)</text>
<text x="1208" y="1640.6" font-size="30.2" text-anchor="start" font-weight="bold" font-family='"Liberation Sans", Arial, sans-serif'>(f)</text>
<path d="M291,335 C298.3,333.9 319.3,330.2 335,328.5 C350.7,326.8 368.3,326.2 385,325 C401.7,323.8 420.8,322.5 435,321 C449.2,319.5 459.2,318.2 470,316 C480.8,313.8 490.8,309.6 500,307.5 C509.2,305.4 517.5,303.5 525,303.5 C532.5,303.5 539.2,305.8 545,307.5 C550.8,309.2 555,312.8 560,314 C565,315.2 570,315.7 575,315 C580,314.3 585,312.7 590,310 C595,307.3 600.4,301.8 605,299 C609.6,296.2 611.7,294.2 617.5,293.5 C623.3,292.8 632.9,294.8 640,295 C647.1,295.2 653.3,294.3 660,295 C666.7,295.7 673.3,297.1 680,299 C686.7,300.9 693.3,304 700,306.5 C706.7,309 711.7,312.2 720,314 C728.3,315.8 740.8,316.8 750,317.5 C759.2,318.2 765,318.3 775,318.5 C785,318.7 795.8,318.8 810,318.5 C824.2,318.2 846.5,316.9 860,316.5 C873.5,316.1 885.8,316.1 891,316 M891,316 C889.2,316.8 889.3,319.9 880,321 C870.7,322.1 855,322 835,322.5 C815,323 785,323.6 760,324 C735,324.4 703.3,324.2 685,325 C666.7,325.8 660,327.5 650,329 C640,330.5 631.7,332.3 625,334 C618.3,335.7 613.3,337.8 610,339 C606.7,340.2 607.5,340.8 605,341 C602.5,341.2 599.2,339.8 595,340 C590.8,340.2 585.8,341.2 580,342.5 C574.2,343.8 567.5,346.1 560,348 C552.5,349.9 541.7,353.5 535,354 C528.3,354.5 525.8,352.9 520,351 C514.2,349.1 506.7,345 500,342.5 C493.3,340 488.3,337.7 480,336 C471.7,334.3 461.7,333.5 450,332.5 C438.3,331.5 425,330.4 410,330 C395,329.6 376.7,329.6 360,330 C343.3,330.4 321.5,331.7 310,332.5 C298.5,333.3 294.2,334.6 291,335" fill="none" stroke="#ff0000" stroke-width="3.3" stroke-linejoin="round" stroke-linecap="round"/>
<path d="M291,546 C294.6,546.9 305.2,552.1 312.5,551.5 C319.8,550.9 327.1,546.5 335,542.5 C342.9,538.5 352.5,532.5 360,527.5 C367.5,522.5 371.7,517.5 380,512.5 C388.3,507.5 400,502.5 410,497.5 C420,492.5 430,487.2 440,482.5 C450,477.8 460,473.6 470,469 C480,464.4 490,460.5 500,455 C510,449.5 520,442.8 530,436 C540,429.2 550,420.4 560,414 C570,407.6 580,402.8 590,397.5 C600,392.2 610.8,386.9 620,382.5 C629.2,378.1 638.3,372.7 645,371 C651.7,369.3 655,371.4 660,372.5 C665,373.6 670,376.4 675,377.5 C680,378.6 684.2,379.4 690,379 C695.8,378.6 702.5,376.8 710,375 C717.5,373.2 726.7,370.4 735,368.5 C743.3,366.6 751.7,365.8 760,363.5 C768.3,361.2 776.7,358.5 785,355 C793.3,351.5 801.7,348.3 810,342.5 C818.3,336.7 826.7,328.8 835,320 C843.3,311.2 852.5,300.8 860,290 C867.5,279.2 874.8,266.2 880,255 C885.2,243.8 889.2,227.9 891,222.5 M891,222.5 C889.2,221.7 885.2,220.4 880,217.5 C874.8,214.6 866.7,210.4 860,205 C853.3,199.6 846.7,193.3 840,185 C833.3,176.7 825.8,165 820,155 C814.2,145 810.8,134.6 805,125 C799.2,115.4 792.5,104.6 785,97.5 C777.5,90.4 768.3,86 760,82.5 C751.7,79 743.3,77.8 735,76.5 C726.7,75.2 717.5,74.8 710,75 C702.5,75.2 696.7,75 690,77.5 C683.3,80 676.7,85.4 670,90 C663.3,94.6 656.7,98.3 650,105 C643.3,111.7 636.7,120.8 630,130 C623.3,139.2 616.7,150 610,160 C603.3,170 596.7,180 590,190 C583.3,200 576.7,210 570,220 C563.3,230 556.7,241.2 550,250 C543.3,258.8 536.7,265 530,272.5 C523.3,280 517.5,288.3 510,295 C502.5,301.7 493.3,306.7 485,312.5 C476.7,318.3 468.3,324.2 460,330 C451.7,335.8 443.3,341.7 435,347.5 C426.7,353.3 418.3,358.8 410,365 C401.7,371.2 393.3,377.1 385,385 C376.7,392.9 368.3,402.5 360,412.5 C351.7,422.5 342.5,433.8 335,445 C327.5,456.2 320.4,469.2 315,480 C309.6,490.8 306.5,499 302.5,510 C298.5,521 292.9,540 291,546" fill="none" stroke="#000000" stroke-width="3.3" stroke-linejoin="round" stroke-linecap="round"/>
<path d="M291,419 C294.2,413.3 302.7,394.8 310,385 C317.3,375.2 325,367.9 335,360 C345,352.1 357.5,344.6 370,337.5 C382.5,330.4 396.7,323.2 410,317.5 C423.3,311.8 437.5,307.9 450,303.5 C462.5,299.1 475,294.9 485,291 C495,287.1 501.7,283.5 510,280 C518.3,276.5 526.7,273.8 535,270 C543.3,266.2 551.7,262.1 560,257.5 C568.3,252.9 576.7,247.5 585,242.5 C593.3,237.5 601.7,232.2 610,227.5 C618.3,222.8 626.7,217.6 635,214 C643.3,210.4 650.8,208.3 660,206 C669.2,203.7 680,202.2 690,200 C700,197.8 710.8,195 720,192.5 C729.2,190 736.2,187.2 745,185 C753.8,182.8 767.9,180 772.5,179 M772.5,176.5 C775.4,177.3 783.8,178.8 790,181.5 C796.2,184.2 803.3,188.6 810,192.5 C816.7,196.4 823.3,201.2 830,205 C836.7,208.8 843.3,212.5 850,215 C856.7,217.5 863.2,219 870,220 C876.8,221 887.5,220.8 891,221 M891,221 C890,224.2 888.5,231.8 885,240 C881.5,248.2 875.8,260 870,270 C864.2,280 856.7,290.8 850,300 C843.3,309.2 836.7,317.9 830,325 C823.3,332.1 817.5,337.3 810,342.5 C802.5,347.7 793.3,353.1 785,356 C776.7,358.9 769.2,358.9 760,360 C750.8,361.1 740,361.8 730,362.5 C720,363.2 711.7,362.6 700,364 C688.3,365.4 671.7,368.8 660,371 C648.3,373.2 640,375 630,377.5 C620,380 610,382.4 600,386 C590,389.6 580,394.6 570,399 C560,403.4 550,408.6 540,412.5 C530,416.4 520,419.2 510,422.5 C500,425.8 490,429.2 480,432.5 C470,435.8 460,439.2 450,442.5 C440,445.8 430,449.8 420,452.5 C410,455.2 398.3,457.8 390,458.5 C381.7,459.2 376.7,458.6 370,456.5 C363.3,454.4 356.7,449.6 350,446 C343.3,442.4 336.7,438.2 330,435 C323.3,431.8 316.5,429.2 310,426.5 C303.5,423.8 294.2,420.2 291,419" fill="none" stroke="#0000ff" stroke-width="3.3" stroke-linejoin="round" stroke-linecap="round"/>
<path d="M1344.8,423.2 C1347.6,420.6 1355,413.3 1361.5,407.8 C1367.9,402.3 1374.6,396.5 1383.4,390.3 C1392.1,384.1 1403.1,376.8 1414,370.6 C1425,364.4 1439.6,357.8 1449.1,353 C1458.6,348.3 1464.4,346.1 1471,342.1 C1477.6,338.1 1482.7,334.4 1488.5,328.9 C1494.4,323.5 1500.6,316.5 1506.1,309.2 C1511.6,301.9 1517,292.8 1521.4,285.1 C1525.8,277.4 1529.1,270.5 1532.4,263.2 C1535.7,255.9 1538.2,248.2 1541.1,241.3 C1544.1,234.4 1547,227.2 1549.9,221.6 C1552.8,216 1555.7,209.6 1558.7,207.6 C1561.6,205.5 1564.5,206.6 1567.4,209.3 C1570.3,212 1573.3,217.3 1576.2,223.8 C1579.1,230.2 1582,239.8 1585,247.9 C1587.9,255.9 1591.2,266 1593.7,272 C1596.3,278 1597.7,282 1600.3,283.8 C1602.8,285.6 1606.5,284.9 1609.1,282.9 C1611.6,281 1613.4,278.2 1615.6,272 C1617.8,265.8 1620,255.5 1622.2,245.7 C1624.4,235.8 1626.6,224.1 1628.8,212.8 C1631,201.5 1633.2,188 1635.3,177.8 C1637.5,167.5 1639.7,157.3 1641.9,151.5 C1644.1,145.6 1646.3,143.8 1648.5,142.7 C1650.7,141.6 1652.5,143.6 1655.1,144.9 C1657.6,146.1 1660.9,149.6 1663.8,150.1 C1666.8,150.7 1669.7,148.5 1672.6,148 C1675.5,147.4 1677.7,146.1 1681.4,147.1 C1685,148 1690.1,150 1694.5,153.7 C1698.9,157.3 1704,163.5 1707.7,169 C1711.3,174.5 1713.5,179.9 1716.4,186.5 C1719.3,193.1 1722.3,200.8 1725.2,208.4 C1728.1,216.1 1731,224.5 1733.9,232.5 C1736.9,240.6 1739.8,250.1 1742.7,256.6 C1745.6,263.2 1748.2,267.7 1751.5,272 C1754.8,276.2 1758.4,279.3 1762.4,282.1 C1766.4,284.8 1771.4,286.9 1775.6,288.2 C1779.7,289.4 1785.4,289.3 1787.4,289.5 M1787.4,289.5 C1787.6,290.2 1786.7,292.8 1788.7,293.9 C1790.8,295 1795.7,294.6 1799.7,296.1 C1803.7,297.5 1808.4,301 1812.8,302.6 C1817.2,304.3 1820.9,305.7 1826,305.7 C1831.1,305.7 1837.7,304.6 1843.5,302.6 C1849.3,300.7 1855.2,296.8 1861,293.9 C1866.9,291 1872.6,286.7 1878.6,285.1 C1884.5,283.5 1893.9,284.4 1897,284.2 M1897,284.2 C1896.8,286.9 1897,294.8 1896.1,300.5 C1895.2,306.1 1893.9,312.9 1891.7,318 C1889.5,323.1 1886.6,327.5 1882.9,331.1 C1879.3,334.8 1874.9,337.7 1869.8,339.9 C1864.7,342.1 1860.3,343.4 1852.3,344.3 C1844.2,345.2 1834,344.9 1821.6,345.2 C1809.2,345.4 1792.4,345.7 1777.8,346 C1763.2,346.3 1744.9,346.3 1733.9,346.9 C1723,347.5 1717.9,348.1 1712,349.5 C1706.2,350.9 1702.5,352.8 1698.9,355.2 C1695.2,357.6 1693,360.7 1690.1,364 C1687.2,367.3 1685,370.6 1681.4,375 C1677.7,379.3 1672.6,385.2 1668.2,390.3 C1663.8,395.4 1658.7,400.1 1655.1,405.6 C1651.4,411.1 1648.5,417.3 1646.3,423.2 C1644.1,429 1643,435.6 1641.9,440.7 C1640.8,445.8 1640.6,450.9 1639.7,453.8 C1638.9,456.8 1637.8,458.2 1636.7,458.2 C1635.6,458.2 1634.5,454.7 1633.2,453.8 C1631.8,453 1630.6,452.6 1628.8,453 C1626.9,453.3 1624.4,453.7 1622.2,456 C1620,458.4 1618.2,461.9 1615.6,467 C1613.1,472.1 1609.8,480.1 1606.9,486.7 C1603.9,493.3 1601,499.8 1598.1,506.4 C1595.2,513 1592.3,519.9 1589.3,526.1 C1586.4,532.3 1583.5,538.8 1580.6,543.7 C1577.6,548.6 1574.6,552.8 1571.8,555.5 C1569,558.2 1566.5,559.9 1563.9,559.9 C1561.4,559.9 1558.8,558.2 1556.5,555.5 C1554.1,552.8 1552.1,548.9 1549.9,543.7 C1547.7,538.4 1545.5,531.6 1543.3,523.9 C1541.1,516.3 1538.9,506.4 1536.7,497.7 C1534.6,488.9 1532.7,479.8 1530.2,471.4 C1527.6,463 1524.7,453.8 1521.4,447.3 C1518.1,440.7 1514.5,436.3 1510.5,431.9 C1506.4,427.5 1501.7,424.6 1497.3,421 C1492.9,417.3 1488.5,413.7 1484.2,410 C1479.8,406.4 1475.4,401.8 1471,399.1 C1466.6,396.3 1463,394.3 1457.9,393.4 C1452.8,392.4 1446.9,392.9 1440.3,393.4 C1433.8,393.8 1425.7,394.7 1418.4,396 C1411.1,397.3 1403.8,399.1 1396.5,401.2 C1389.2,403.4 1381.2,406.6 1374.6,409.1 C1368,411.7 1362,414.2 1357.1,416.6 C1352.1,418.9 1346.9,422.1 1344.8,423.2" fill="none" stroke="#0000ff" stroke-width="3.3" stroke-linejoin="round" stroke-linecap="round"/>
<path d="M292.5,1156 C294.3,1153.4 298.9,1144.8 303.5,1140.5 C308.1,1136.2 313.4,1133.9 320,1130 C326.6,1126.1 335.4,1121.1 342.9,1116.9 C350.4,1112.7 357.1,1108.9 365,1105 C372.9,1101.1 381.8,1097.3 390.1,1093.3 C398.4,1089.3 407.1,1085.2 415,1081 C422.9,1076.8 431,1072.3 437.3,1068.1 C443.6,1063.8 447.8,1060.2 453,1055.5 C458.2,1050.8 464.5,1045.8 468.8,1039.8 C473.1,1033.8 476,1026.2 479,1019.5 C482,1012.8 484.4,1006.2 487,999.5 C489.6,992.8 492.2,985.6 494.5,979 C496.8,972.4 498.8,965.5 501,960 C503.2,954.5 505.7,950 508,945.8 C510.3,941.6 512.8,937.4 515,935 C517.2,932.6 519.2,931.7 521.3,931.5 C523.4,931.3 525.2,930.9 527.5,934 C529.8,937.1 532.1,942.3 535,950 C537.9,957.7 541.7,970.4 545,980 C548.3,989.6 551.7,1001.2 555,1007.5 C558.3,1013.8 561.8,1016.4 565,1017.5 C568.2,1018.6 571.3,1017.8 574,1014 C576.7,1010.2 578.8,1004 581,995 C583.2,986 585.2,973.3 587.5,960 C589.8,946.7 592.5,927.9 595,915 C597.5,902.1 600,890 602.5,882.5 C605,875 607.7,871.8 610,870 C612.3,868.2 614.4,870 616.5,871.5 C618.6,873 620.2,877.4 622.5,879 C624.8,880.6 627.5,881.4 630,881 C632.5,880.6 634.2,877.5 637.5,876.5 C640.8,875.5 645.8,874.4 650,875 C654.2,875.6 658.3,877.1 662.5,880 C666.7,882.9 671.2,887.5 675,892.5 C678.8,897.5 681.7,903.3 685,910 C688.3,916.7 691.7,924.2 695,932.5 C698.3,940.8 701.7,950.8 705,960 C708.3,969.2 711.7,979.6 715,987.5 C718.3,995.4 721.7,1002.3 725,1007.5 C728.3,1012.7 730.8,1015.6 735,1018.5 C739.2,1021.4 744.2,1023.5 750,1025 C755.8,1026.5 763.3,1026.7 770,1027.5 C776.7,1028.3 783.3,1029.2 790,1030 C796.7,1030.8 803.3,1031.7 810,1032.5 C816.7,1033.3 824.2,1035.2 830,1035 C835.8,1034.8 840,1032.8 845,1031 C850,1029.2 855.8,1025.8 860,1024 C864.2,1022.2 865,1020.7 870,1020 C875,1019.3 886.7,1020 890,1020 M890,1020 C889.8,1023.3 889.3,1034.6 888.5,1040 C887.7,1045.4 887.2,1048.8 885,1052.5 C882.8,1056.2 879.2,1060 875,1062.5 C870.8,1065 869.2,1065.8 860,1067.5 C850.8,1069.2 835,1071.1 820,1072.5 C805,1073.9 786.7,1075.1 770,1076 C753.3,1076.9 732.5,1077.3 720,1078 C707.5,1078.7 702.5,1078.4 695,1080 C687.5,1081.6 680.8,1084.2 675,1087.5 C669.2,1090.8 665,1095.8 660,1100 C655,1104.2 650,1108.3 645,1112.5 C640,1116.7 634.2,1121.2 630,1125 C625.8,1128.8 622.7,1130.8 620,1135 C617.3,1139.2 615.7,1144.2 614,1150 C612.3,1155.8 611.1,1165.2 610,1170 C608.9,1174.8 608.8,1176.8 607.5,1178.5 C606.2,1180.2 604.2,1179.9 602.5,1180 C600.8,1180.1 599.6,1177.8 597.5,1179 C595.4,1180.2 592.9,1182.3 590,1187.5 C587.1,1192.7 583.3,1202.1 580,1210 C576.7,1217.9 573.3,1227.5 570,1235 C566.7,1242.5 563.8,1247.9 560,1255 C556.2,1262.1 551.7,1270.4 547.5,1277.5 C543.3,1284.6 538.6,1293.3 535,1297.5 C531.4,1301.7 528.7,1301.7 526,1302.5 C523.3,1303.3 521.5,1304.2 519,1302.5 C516.5,1300.8 513.8,1297.9 511,1292.5 C508.2,1287.1 505.6,1278.8 502.5,1270 C499.4,1261.2 495.8,1250.8 492.5,1240 C489.2,1229.2 485.8,1215 482.5,1205 C479.2,1195 476.2,1186.7 472.5,1180 C468.8,1173.3 464.6,1169.2 460,1165 C455.4,1160.8 450,1158.3 445,1155 C440,1151.7 435,1148.1 430,1145 C425,1141.9 420,1138.2 415,1136.5 C410,1134.8 405.8,1134.8 400,1135 C394.2,1135.2 386.7,1136.7 380,1137.5 C373.3,1138.3 366.7,1139.3 360,1140 C353.3,1140.7 346.7,1140.2 340,1141.5 C333.3,1142.8 325.8,1145.1 320,1147.5 C314.2,1149.9 309.6,1154.6 305,1156 C300.4,1157.4 294.6,1156 292.5,1156" fill="none" stroke="#000000" stroke-width="3.3" stroke-linejoin="round" stroke-linecap="round"/>
<path d="M292.5,1113.5 C295.7,1111.4 303.1,1105 311.5,1101.1 C319.9,1097.2 332.4,1093.1 342.9,1090.1 C353.4,1087.1 363.9,1085.3 374.4,1083 C384.9,1080.7 396.6,1078.2 405.8,1076 C415,1073.8 422,1072.1 429.4,1069.7 C436.8,1067.3 443.3,1065.7 449.9,1061.8 C456.5,1057.9 463,1052.4 468.8,1046.1 C474.6,1039.8 480.1,1030.6 484.5,1024 C488.9,1017.4 492.2,1011.5 495.5,1006.7 C498.8,1001.9 501.2,997.8 504,995 C506.8,992.2 509.4,990 512.5,990 C515.6,990 519.2,991.2 522.5,995 C525.8,998.8 529.2,1006.2 532.5,1012.5 C535.8,1018.8 538.8,1027.3 542.5,1032.5 C546.2,1037.7 550.4,1041.4 555,1043.5 C559.6,1045.6 566.2,1045.6 570,1045 C573.8,1044.4 575.2,1044.2 577.5,1040 C579.8,1035.8 581.9,1028.3 584,1020 C586.1,1011.7 587.8,999.2 590,990 C592.2,980.8 594.8,971.5 597.5,965 C600.2,958.5 603.5,952.5 606,951 C608.5,949.5 610.2,952.8 612.5,956 C614.8,959.2 617.5,967 620,970 C622.5,973 625,973 627.5,974 C630,975 632.1,973.8 635,976 C637.9,978.2 640.8,983.5 645,987.5 C649.2,991.5 654.2,995.4 660,1000 C665.8,1004.6 674.2,1010 680,1015 C685.8,1020 690,1025.4 695,1030 C700,1034.6 704.2,1039.2 710,1042.5 C715.8,1045.8 721.7,1048.1 730,1050 C738.3,1051.9 749.2,1053 760,1054 C770.8,1055 783.3,1056.2 795,1056 C806.7,1055.8 819.2,1053.8 830,1052.5 C840.8,1051.2 850,1049.8 860,1048.5 C870,1047.2 885,1045.6 890,1045 M890,1045 C889.8,1045.8 890.7,1047.5 889,1050 C887.3,1052.5 884.8,1057.1 880,1060 C875.2,1062.9 870,1065.8 860,1067.5 C850,1069.2 835,1069.2 820,1070 C805,1070.8 786.7,1071.8 770,1072.5 C753.3,1073.2 735,1073.4 720,1074 C705,1074.6 691.7,1075 680,1076 C668.3,1077 658.3,1078.1 650,1080 C641.7,1081.9 636.7,1084.2 630,1087.5 C623.3,1090.8 615.8,1095.4 610,1100 C604.2,1104.6 600,1110 595,1115 C590,1120 584.2,1124.6 580,1130 C575.8,1135.4 573.8,1140.8 570,1147.5 C566.2,1154.2 561.5,1163.3 557.5,1170 C553.5,1176.7 549.3,1184 546,1187.5 C542.7,1191 540.3,1191.4 537.5,1191 C534.7,1190.6 531.9,1188.5 529,1185 C526.1,1181.5 523.2,1176.7 520,1170 C516.8,1163.3 513.3,1152.9 510,1145 C506.7,1137.1 503.3,1128.8 500,1122.5 C496.7,1116.2 494.2,1111 490,1107.5 C485.8,1104 479.2,1102.8 475,1101.5 C470.8,1100.2 468.3,1100.8 465,1100 C461.7,1099.2 458.8,1097.1 455,1096.5 C451.2,1095.9 447.5,1096.2 442.5,1096.5 C437.5,1096.8 431.2,1097.5 425,1098.5 C418.8,1099.5 412.5,1100.8 405,1102.5 C397.5,1104.2 388.3,1107.1 380,1109 C371.7,1110.9 363.3,1112.8 355,1114 C346.7,1115.2 337.5,1115.8 330,1116 C322.5,1116.2 316.2,1115.4 310,1115 C303.8,1114.6 295.4,1113.8 292.5,1113.5" fill="none" stroke="#ff0000" stroke-width="3.3" stroke-linejoin="round" stroke-linecap="round"/>
<path d="M292.5,1095.5 C295.7,1094.1 303.1,1089.7 311.5,1087 C319.9,1084.3 332.4,1081.2 342.9,1079.1 C353.4,1077 363.9,1076 374.4,1074.4 C384.9,1072.8 396.6,1071.3 405.8,1069.7 C415,1068.1 422,1066.7 429.4,1064.9 C436.8,1063.1 443.3,1062.4 449.9,1058.7 C456.5,1055 463,1048.2 468.8,1042.9 C474.6,1037.7 479.6,1031.2 484.5,1027.2 C489.4,1023.2 494.9,1019.8 498.5,1018.8 C502.1,1017.7 503.2,1019.1 506,1021 C508.8,1022.9 511.8,1026.7 515,1030 C518.2,1033.3 520.8,1037.5 525,1041 C529.2,1044.5 535,1048.7 540,1051 C545,1053.3 550,1054.6 555,1055 C560,1055.4 566.2,1055.2 570,1053.5 C573.8,1051.8 575.2,1049.8 577.5,1045 C579.8,1040.2 581.7,1032.9 584,1025 C586.3,1017.1 589,1004.3 591.5,997.5 C594,990.7 596.8,985.2 599,984 C601.2,982.8 602.8,986.9 605,990 C607.2,993.1 609.6,999.2 612.5,1002.5 C615.4,1005.8 619.2,1007.2 622.5,1010 C625.8,1012.8 628.8,1016.2 632.5,1019 C636.2,1021.8 640,1024 645,1026.5 C650,1029 656.7,1031.3 662.5,1034 C668.3,1036.7 674.6,1039.4 680,1042.5 C685.4,1045.6 689.2,1050 695,1052.5 C700.8,1055 706.7,1056.2 715,1057.5 C723.3,1058.8 731.7,1059.8 745,1060 C758.3,1060.2 778.3,1059.6 795,1058.5 C811.7,1057.4 829.2,1054.9 845,1053.5 C860.8,1052.1 882.5,1050.6 890,1050 M890,1050 C889.8,1050.8 890.7,1053.1 889,1055 C887.3,1056.9 884.8,1059.7 880,1061.5 C875.2,1063.3 870,1064.8 860,1066 C850,1067.2 835,1068.1 820,1069 C805,1069.9 786.7,1070.9 770,1071.5 C753.3,1072.1 736.7,1071.9 720,1072.5 C703.3,1073.1 684.2,1073.8 670,1075 C655.8,1076.2 644.2,1077.9 635,1080 C625.8,1082.1 620.8,1084.6 615,1087.5 C609.2,1090.4 604.2,1094.2 600,1097.5 C595.8,1100.8 593.3,1104.6 590,1107.5 C586.7,1110.4 583.3,1112.1 580,1115 C576.7,1117.9 573.3,1121.2 570,1125 C566.7,1128.8 563.2,1134.2 560,1137.5 C556.8,1140.8 553.9,1144.2 551,1145 C548.1,1145.8 545.6,1144.6 542.5,1142.5 C539.4,1140.4 535.8,1136.7 532.5,1132.5 C529.2,1128.3 526.2,1122.9 522.5,1117.5 C518.8,1112.1 514.6,1104.8 510,1100 C505.4,1095.2 500,1091.3 495,1089 C490,1086.7 485,1086.7 480,1086 C475,1085.3 470,1085.5 465,1085 C460,1084.5 455,1083.2 450,1083 C445,1082.8 440,1083.2 435,1084 C430,1084.8 425.8,1085.8 420,1087.5 C414.2,1089.2 406.7,1092.1 400,1094 C393.3,1095.9 386.7,1097.8 380,1099 C373.3,1100.2 367.5,1101.1 360,1101 C352.5,1100.9 343.3,1099.3 335,1098.5 C326.7,1097.7 317.1,1096.6 310,1096 C302.9,1095.4 295.4,1095.2 292.5,1095" fill="none" stroke="#0000ff" stroke-width="3.3" stroke-linejoin="round" stroke-linecap="round"/>
<path d="M1346.2,1315.2 C1347,1312 1349.1,1302.4 1351.2,1296 C1353.4,1289.7 1355.9,1283.4 1359.1,1277 C1362.3,1270.6 1366.4,1264 1370.3,1257.8 C1374.3,1251.7 1378.8,1245 1382.7,1239.9 C1386.6,1234.9 1389.8,1232 1394,1227.5 C1398.1,1223 1402.7,1217.6 1407.4,1212.9 C1412.1,1208.2 1416.4,1204.1 1422,1199.5 C1427.6,1194.8 1434.2,1190.5 1441.1,1184.8 C1448,1179.2 1457.1,1171 1463.6,1165.8 C1470.1,1160.5 1473.9,1157.7 1480,1153.2 C1486.1,1148.6 1493.3,1143.9 1500.1,1138.4 C1506.9,1132.9 1514.3,1125.8 1521,1120 C1527.7,1114.2 1533.8,1108.7 1540,1103.8 C1546.2,1098.9 1552,1094.5 1558,1090.3 C1564,1086.2 1570,1082.7 1576,1078.7 C1581.9,1074.6 1588,1070.8 1594,1066 C1599.9,1061.3 1606.7,1055.6 1611.9,1049.9 C1617.1,1044.2 1621.7,1037.6 1625.4,1031.9 C1629.2,1026.2 1631.6,1021.1 1634.4,1015.8 C1637.2,1010.4 1639.6,1005.9 1642.2,999.6 C1644.9,993.4 1648.1,984.7 1650.5,978 C1653,971.3 1654.7,965.6 1656.8,959.2 C1659,952.8 1661.2,946 1663.5,939.5 C1665.8,933 1668.1,926 1670.3,919.9 C1672.6,913.8 1673.7,910 1677.1,903 C1680.5,896.1 1685.5,885.2 1690.5,878.3 C1695.6,871.4 1700.8,865.9 1707.4,861.5 C1714,857 1722.4,854 1729.9,851.4 C1737.4,848.7 1744.9,847 1752.3,845.8 C1759.8,844.5 1767.4,844.1 1774.8,844 C1782.3,843.9 1789.8,844.1 1797.3,845.1 C1804.8,846.2 1812.7,847.3 1819.8,850.2 C1826.9,853.1 1833.9,857.6 1840,862.6 C1846.1,867.6 1850.7,874.7 1856.3,880 C1861.9,885.3 1866.2,888.5 1873.7,894.5 C1881.2,900.5 1896.6,912.6 1901.2,916.2 M1901.2,916.2 C1900.8,919.2 1899.8,926.6 1898.7,934 C1897.6,941.5 1896.2,952.1 1894.6,961.1 C1893,970.1 1891,979.5 1889.2,988.1 C1887.4,996.7 1886,1003.4 1883.8,1012.5 C1881.5,1021.5 1878.4,1032.7 1875.7,1042.2 C1873,1051.6 1870.7,1061.1 1867.5,1069.2 C1864.4,1077.3 1860.3,1084.5 1856.8,1090.8 C1853.2,1097.1 1849.8,1101.9 1846,1107 C1842.1,1112.2 1838.1,1117.6 1833.8,1121.9 C1829.5,1126.2 1824.8,1129.6 1820.2,1132.7 C1815.7,1135.8 1810.5,1138.8 1806.8,1140.8 C1803,1142.8 1800.4,1144.1 1798,1144.8 C1795.6,1145.5 1795.3,1145.5 1792.5,1145 C1789.7,1144.5 1784.8,1142.8 1781,1142 C1777.2,1141.2 1773.8,1140.4 1769.5,1140.5 C1765.2,1140.6 1760.5,1141 1755,1142.7 C1749.5,1144.4 1743,1147.5 1736.2,1150.7 C1729.5,1154 1720.5,1158.8 1714.5,1162.2 C1708.5,1165.6 1705.4,1167.2 1700,1171 C1694.6,1174.8 1688.3,1178.9 1682,1185 C1675.7,1191.1 1669.5,1198.3 1662,1207.5 C1654.5,1216.7 1644.5,1227.9 1637,1240 C1629.5,1252.1 1622.8,1267.5 1617,1280 C1611.2,1292.5 1606.2,1307.1 1602,1315 C1597.8,1322.9 1596.2,1323.8 1592,1327.5 C1587.8,1331.2 1582.8,1335 1577,1337.5 C1571.2,1340 1563.2,1341.4 1557,1342.5 C1550.8,1343.6 1546.2,1344 1540,1344.2 C1533.8,1344.3 1526.9,1343.5 1519.8,1343.2 C1512.7,1343 1504.8,1342.5 1497.3,1342.3 C1489.8,1342.2 1482.3,1342.3 1474.8,1342.3 C1467.4,1342.3 1459.8,1342.6 1452.3,1342.3 C1444.9,1342.1 1437.4,1341.6 1429.9,1341 C1422.4,1340.4 1414,1339.7 1407.4,1338.8 C1400.8,1337.8 1396.2,1336.9 1390.5,1335.4 C1384.9,1333.9 1379.3,1332 1373.7,1329.8 C1368.1,1327.5 1361.4,1324.3 1356.8,1321.9 C1352.3,1319.5 1348,1316.3 1346.2,1315.2" fill="none" stroke="#808000" stroke-width="1.8" stroke-linejoin="round" stroke-linecap="round"/>
<path d="M1346.2,1246.7 C1346.8,1244.8 1348.3,1239.5 1350.1,1235.4 C1351.9,1231.3 1354.3,1226 1356.8,1221.9 C1359.4,1217.8 1362.5,1214.6 1365.5,1210.8 C1368.5,1206.9 1371.1,1203.2 1375,1199 C1378.9,1194.8 1384.2,1189.9 1388.8,1185.7 C1393.2,1181.5 1397.1,1177.6 1402,1174 C1406.9,1170.4 1411.8,1168.2 1418,1164.2 C1424.2,1160.3 1433.5,1154.1 1439.5,1150.5 C1445.5,1146.9 1449,1145.5 1454,1142.9 C1459.1,1140.3 1464.3,1137.9 1469.8,1135 C1475.3,1132.2 1480.5,1129.5 1487,1126 C1493.5,1122.5 1501.8,1117.6 1508.5,1113.9 C1515.2,1110.2 1521.8,1106.9 1527,1104 C1532.2,1101.1 1534.8,1099.7 1540,1096.7 C1545.2,1093.6 1552,1089 1558,1085.8 C1564,1082.7 1570,1080.5 1576,1077.8 C1581.9,1075 1588,1072.5 1594,1069.7 C1599.9,1066.8 1606.7,1063.6 1611.9,1060.7 C1617.1,1057.7 1621.2,1055.3 1625.4,1051.7 C1629.6,1048.1 1633.7,1043.1 1637.1,1039.1 C1640.5,1035 1643.1,1032.2 1646,1027.4 C1649,1022.6 1652.7,1015 1655,1010.4 C1657.4,1005.7 1658.7,1002.8 1660.2,999.6 C1661.7,996.5 1661.8,996.9 1664,991.5 C1666.3,986 1669.8,976.2 1673.7,967.1 C1677.6,958 1683.5,945.2 1687.2,936.8 C1691,928.3 1692.1,924.5 1696.2,916.5 C1700.3,908.5 1706.3,896.1 1711.9,888.5 C1717.5,880.8 1722.2,875.6 1729.9,870.5 C1737.6,865.3 1747.9,860.1 1758,857.5 C1768.1,855 1785.1,855.7 1790.5,855.3 M1791.7,853 C1794.5,853.7 1802.9,854.4 1808.5,857 C1814.2,859.5 1821.1,864.4 1825.4,868.2 C1829.7,872 1831.4,874.4 1834.6,880 C1837.8,885.6 1841.6,893.2 1844.7,901.7 C1847.8,910.2 1850.5,921.1 1853.4,930.7 C1856.3,940.4 1858.7,949.2 1862.1,959.6 C1865.5,970 1870.1,984 1873.7,992.9 C1877.3,1001.8 1879.2,1007.2 1883.8,1013.2 C1888.4,1019.2 1898.3,1026.4 1901.2,1029.1 M1901.2,1029.1 C1901,1030.8 1900.7,1035.5 1900,1039.5 C1899.3,1043.4 1898.4,1048 1897.3,1053 C1896.2,1057.9 1894.8,1063.8 1893.2,1069.2 C1891.7,1074.6 1889.9,1080.5 1887.8,1085.4 C1885.8,1090.4 1883.6,1094.4 1881.1,1098.9 C1878.6,1103.4 1876.1,1108.4 1873,1112.5 C1869.8,1116.5 1866.4,1120.1 1862.2,1123.2 C1857.9,1126.4 1853.2,1129.2 1847.3,1131.3 C1841.4,1133.5 1834.9,1135 1827,1136.1 C1819.1,1137.2 1807.5,1136.9 1800,1138 C1792.5,1139.1 1791.7,1140.9 1782,1142.5 C1772.3,1144.1 1755.3,1145 1742,1147.5 C1728.7,1150 1714.5,1153.3 1702,1157.5 C1689.5,1161.7 1677.8,1166.2 1667,1172.5 C1656.2,1178.8 1647,1186.2 1637,1195 C1627,1203.8 1616.2,1215 1607,1225 C1597.8,1235 1590.3,1244.2 1582,1255 C1573.7,1265.8 1565.3,1279.2 1557,1290 C1548.7,1300.8 1538.2,1313.2 1532,1320 C1525.8,1326.8 1523.7,1328.2 1519.8,1330.9 C1515.9,1333.7 1512.3,1334.9 1508.5,1336.5 C1504.8,1338.1 1501,1339.7 1497.3,1340.5 C1493.5,1341.2 1489.8,1341.1 1486,1341 C1482.3,1340.9 1478.6,1340.7 1474.8,1339.9 C1471.1,1339.2 1467.3,1338 1463.6,1336.5 C1459.8,1335 1456.1,1333.1 1452.3,1330.9 C1448.6,1328.7 1444.8,1326 1441.1,1323 C1437.4,1320 1433.6,1316.5 1429.9,1312.9 C1426.2,1309.3 1422.4,1305.4 1418.7,1301.7 C1414.9,1298 1411.1,1294 1407.4,1290.5 C1403.7,1286.9 1399.9,1283.7 1396.2,1280.3 C1392.5,1277 1389.1,1273.5 1385,1270.2 C1380.8,1266.9 1376.1,1263.5 1371.5,1260.7 C1366.8,1257.8 1361.1,1255.7 1356.8,1253.3 C1352.6,1251 1348,1247.8 1346.2,1246.7" fill="none" stroke="#ff00ff" stroke-width="1.8" stroke-linejoin="round" stroke-linecap="round"/>
<path d="M1346.2,1210.1 C1347,1208.3 1348.8,1203.1 1351,1199.5 C1353.2,1196 1356.9,1191.8 1359.7,1188.5 C1362.4,1185.3 1364.3,1182.8 1367.5,1179.9 C1370.8,1177 1374.8,1174.3 1379.3,1171.2 C1383.9,1168.2 1389.8,1164.7 1395,1161.8 C1400.3,1158.9 1405.6,1156.4 1410.8,1154 C1416,1151.5 1421.3,1149.2 1426.5,1146.8 C1431.7,1144.5 1437,1142 1442.2,1139.8 C1447.5,1137.6 1451.7,1135.7 1458,1133.5 C1464.3,1131.3 1471.8,1129.5 1480,1126.4 C1488.2,1123.3 1497,1120.9 1507,1115 C1517,1109.1 1531.5,1096.3 1540,1091.2 C1548.5,1086.2 1552,1086.9 1558,1085 C1564,1083 1570,1081.3 1576,1079.5 C1581.9,1077.8 1588,1076.1 1594,1074.2 C1599.9,1072.2 1606.7,1070.1 1611.9,1067.8 C1617.1,1065.6 1620.9,1063.8 1625.4,1060.7 C1629.9,1057.5 1635.2,1053 1638.9,1049 C1642.6,1045 1644.9,1041.5 1647.8,1036.4 C1650.8,1031.3 1654.2,1024.6 1656.8,1018.5 C1659.5,1012.3 1660.8,1006.7 1663.6,999.6 C1666.4,992.6 1669.2,985.6 1673.7,976 C1678.2,966.5 1684.9,953 1690.5,942.4 C1696.2,931.7 1701.2,921.5 1707.4,912 C1713.6,902.5 1719.2,891.6 1727.7,885 C1736.1,878.5 1750.1,874.4 1758,872.7 C1765.9,871 1770.5,873.7 1774.8,875 C1779.2,876.2 1780.7,878 1783.9,880 C1787.1,882 1790.7,883.6 1794.1,887.2 C1797.5,890.8 1800.6,894.5 1804.2,901.7 C1807.8,909 1812.2,919.9 1815.8,930.7 C1819.4,941.6 1822.3,954.8 1825.9,966.8 C1829.5,978.8 1833.2,992.1 1837.5,1003 C1841.8,1013.9 1846.5,1023.5 1852,1032 C1857.5,1040.5 1864.8,1049 1870.8,1053.7 C1876.8,1058.4 1883.1,1059.1 1888.2,1060.2 C1893.3,1061.3 1899,1060.2 1901.2,1060.2 M1901.2,1060.2 C1900.9,1062.2 1900.2,1067.5 1899.3,1071.9 C1898.4,1076.3 1897.2,1082.2 1896,1086.8 C1894.7,1091.2 1893.5,1095.1 1891.9,1098.9 C1890.3,1102.7 1888.8,1106.4 1886.5,1109.8 C1884.2,1113.1 1881.6,1116.3 1878.4,1119.2 C1875.2,1122.1 1871.6,1124.8 1867.5,1127.3 C1863.5,1129.8 1859.7,1132.4 1854,1134 C1848.4,1135.7 1840.6,1137.2 1833.8,1137.5 C1827,1137.7 1819.1,1135.9 1813.5,1135.4 C1807.9,1135 1806.1,1135 1800,1134.8 C1793.9,1134.5 1787.5,1133.5 1777,1134 C1766.5,1134.5 1749.5,1135.2 1737,1137.5 C1724.5,1139.8 1712.8,1142.9 1702,1147.5 C1691.2,1152.1 1681.2,1157.9 1672,1165 C1662.8,1172.1 1655.3,1180.4 1647,1190 C1638.7,1199.6 1630.3,1212.5 1622,1222.5 C1613.7,1232.5 1605.3,1242.5 1597,1250 C1588.7,1257.5 1581.5,1261.6 1572,1267.5 C1562.5,1273.4 1546.8,1282 1540,1285.4 C1533.2,1288.8 1534.4,1286.7 1531,1287.7 C1527.6,1288.6 1523.5,1290.4 1519.8,1291 C1516.1,1291.6 1512.3,1291.4 1508.5,1291.3 C1504.8,1291.3 1502,1291.2 1497.3,1290.5 C1492.6,1289.7 1486.1,1289.2 1480.5,1287.1 C1474.8,1285 1469.2,1281.8 1463.6,1278.1 C1458,1274.3 1452.4,1268.7 1446.8,1264.6 C1441.1,1260.5 1435.5,1257.5 1429.9,1253.3 C1424.3,1249.2 1419,1244.2 1413,1239.9 C1407.1,1235.6 1399.6,1230.7 1394,1227.5 C1388.3,1224.4 1384.6,1223 1379.3,1220.8 C1374.1,1218.6 1368,1216.4 1362.5,1214.6 C1356.9,1212.8 1348.9,1210.8 1346.2,1210.1" fill="none" stroke="#008080" stroke-width="1.8" stroke-linejoin="round" stroke-linecap="round"/>
<path d="M1346.3,1179.9 C1347.2,1178.5 1349.6,1173.9 1351.8,1171.2 C1354,1168.6 1356.4,1166.5 1359.7,1164.2 C1362.9,1161.8 1366.9,1159.3 1371.5,1157.1 C1376,1154.9 1382,1152.8 1387.2,1150.8 C1392.4,1148.8 1397.7,1147.1 1402.9,1145.3 C1408.1,1143.5 1413.4,1141.5 1418.7,1139.8 C1423.9,1138.1 1429.2,1136.6 1434.4,1135 C1439.6,1133.5 1444.9,1131.9 1450.1,1130.3 C1455.3,1128.8 1460.9,1127 1465.8,1125.6 C1470.8,1124.2 1474.8,1123.5 1480,1121.7 C1485.2,1119.9 1490.8,1118 1497,1115 C1503.2,1112 1509.8,1108.3 1517,1104 C1524.2,1099.7 1533.2,1093.4 1540,1089.5 C1546.8,1085.5 1552,1082.4 1558,1080.5 C1564,1078.5 1570,1078.5 1576,1077.8 C1581.9,1077 1588,1076.9 1594,1076 C1599.9,1075 1606.7,1073.8 1611.9,1072.3 C1617.1,1070.8 1621.7,1069.3 1625.4,1067 C1629.2,1064.6 1631.4,1061.6 1634.4,1058 C1637.4,1054.4 1640.4,1050.5 1643.3,1045.4 C1646.3,1040.3 1649.3,1033.7 1652.3,1027.4 C1655.3,1021.1 1659.1,1012.3 1661.3,1007.6 C1663.6,1003 1664.3,1002.8 1665.8,999.6 C1667.3,996.5 1668.1,993.6 1670.3,988.8 C1672.6,983.9 1676,977.1 1679.3,970.5 C1682.7,963.8 1686.2,955.7 1690.5,949.1 C1694.8,942.5 1700.5,935.8 1705.2,931.1 C1709.8,926.4 1713.6,923.6 1718.7,921 C1723.7,918.4 1729.9,915.2 1735.5,915.4 C1741.1,915.6 1747.7,918.4 1752.3,922.1 C1757,925.9 1759.8,931.1 1763.6,937.9 C1767.3,944.6 1770.7,952.3 1774.8,962.6 C1779,972.9 1785.8,992.9 1788.3,999.6 C1790.8,1006.4 1787.5,997.6 1789.7,1003 C1791.9,1008.4 1797,1022.4 1801.3,1032 C1805.6,1041.7 1811,1053.9 1815.8,1060.9 C1820.6,1067.9 1824.3,1070.3 1830.3,1073.9 C1836.3,1077.5 1844.8,1080.9 1852,1082.6 C1859.2,1084.3 1865.5,1084.6 1873.7,1084.1 C1881.9,1083.6 1896.6,1080.4 1901.2,1079.7 M1901.2,1079.7 C1900.9,1081.1 1900.2,1084.9 1899.3,1088.1 C1898.4,1091.3 1897.4,1095.3 1896,1098.9 C1894.5,1102.5 1893,1106.6 1890.5,1109.8 C1888,1112.9 1884.9,1115.4 1881.1,1117.8 C1877.3,1120.3 1872.1,1122.8 1867.5,1124.6 C1863,1126.4 1859.7,1127.5 1854,1128.7 C1848.4,1129.8 1840.6,1131.2 1833.8,1131.3 C1827,1131.5 1819.1,1129.8 1813.5,1129.3 C1807.9,1128.8 1804.4,1128.5 1800,1128.7 C1795.6,1128.8 1795.8,1129.8 1787,1130 C1778.2,1130.2 1759.5,1129.3 1747,1130 C1734.5,1130.7 1722.8,1131.5 1712,1134 C1701.2,1136.5 1691.2,1140.7 1682,1145 C1672.8,1149.3 1665.3,1153.8 1657,1160 C1648.7,1166.2 1639.5,1174.2 1632,1182.5 C1624.5,1190.8 1618.7,1202.9 1612,1210 C1605.3,1217.1 1598.7,1220.8 1592,1225 C1585.3,1229.2 1578.7,1231.7 1572,1235 C1565.3,1238.3 1557.3,1242.9 1552,1245 C1546.7,1247.1 1543.5,1247 1540,1247.8 C1536.5,1248.5 1535.3,1249.1 1531,1249.5 C1526.7,1249.8 1519.8,1250.5 1514.2,1250 C1508.5,1249.5 1503.8,1248.9 1497.3,1246.7 C1490.8,1244.4 1482.3,1240.6 1474.8,1236.5 C1467.4,1232.4 1459.8,1226.8 1452.3,1221.9 C1444.9,1217 1437.4,1211.8 1429.9,1207.3 C1422.4,1202.8 1414.5,1198.5 1407.4,1195 C1400.3,1191.4 1394.1,1188.5 1387.2,1186.2 C1380.3,1184 1372.8,1182.5 1366,1181.5 C1359.1,1180.4 1349.6,1180.2 1346.3,1179.9" fill="none" stroke="#0000ff" stroke-width="1.8" stroke-linejoin="round" stroke-linecap="round"/>
<path d="M1346.3,1151.2 C1347.9,1150.2 1351.6,1147.2 1355.8,1145.3 C1359.9,1143.4 1366.2,1141.4 1371.5,1139.8 C1376.7,1138.2 1382,1137.2 1387.2,1135.8 C1392.4,1134.5 1397.7,1133.1 1402.9,1131.9 C1408.1,1130.7 1413.4,1129.7 1418.7,1128.8 C1423.9,1127.8 1429.2,1127.3 1434.4,1126.4 C1439.6,1125.5 1444.9,1124.3 1450.1,1123.2 C1455.3,1122.2 1460.9,1121 1465.8,1120.1 C1470.8,1119.2 1474.8,1119 1480,1117.8 C1485.2,1116.5 1490,1115.9 1497,1112.5 C1504,1109.1 1514.8,1101 1522,1097.5 C1529.2,1094 1534.8,1094.1 1540,1091.2 C1545.2,1088.4 1549,1082.9 1553.5,1080.5 C1558,1078 1562.5,1077.3 1567,1076.8 C1571.4,1076.4 1576.7,1077.2 1580.5,1077.8 C1584.2,1078.3 1585.7,1079.1 1589.5,1080.5 C1593.2,1081.8 1598.9,1084.8 1602.9,1085.8 C1606.9,1086.9 1610.4,1087 1613.7,1086.8 C1617,1086.5 1620,1085.8 1622.7,1084 C1625.4,1082.2 1627.2,1080 1629.9,1076 C1632.6,1071.9 1635.9,1065.2 1638.9,1059.8 C1641.9,1054.4 1644.9,1048.5 1647.8,1043.6 C1650.8,1038.6 1653.8,1034 1656.8,1030.1 C1659.8,1026.2 1662.9,1022.6 1665.8,1020.2 C1668.8,1017.8 1671.8,1017.1 1674.8,1015.8 C1677.8,1014.4 1680.8,1013.2 1683.8,1012.1 C1686.8,1011.1 1690.1,1010 1692.8,1009.5 C1695.5,1008.9 1696.8,1008.5 1700,1009 C1703.2,1009.5 1707.5,1010.2 1712,1012.5 C1716.5,1014.8 1722,1017.9 1727,1022.5 C1732,1027.1 1737,1033.8 1742,1040 C1747,1046.2 1752,1053.8 1757,1060 C1762,1066.2 1767,1072.7 1772,1077.5 C1777,1082.3 1781.2,1085.9 1787,1089 C1792.8,1092.1 1798.7,1093.9 1807,1096 C1815.3,1098.1 1827.8,1100.4 1837,1101.5 C1846.2,1102.6 1853.7,1102.9 1862,1102.5 C1870.3,1102.1 1880.5,1100.1 1887,1099 C1893.5,1097.9 1898.7,1096.5 1901,1096 M1901,1096 C1900.8,1097.7 1901,1102.4 1899.5,1106 C1898,1109.6 1895.8,1115 1892,1117.5 C1888.2,1120 1886.2,1120.2 1877,1121 C1867.8,1121.8 1852,1121.7 1837,1122 C1822,1122.3 1803.7,1122.5 1787,1123 C1770.3,1123.5 1751.2,1123.8 1737,1125 C1722.8,1126.2 1712,1127.5 1702,1130 C1692,1132.5 1684.5,1135.8 1677,1140 C1669.5,1144.2 1663.7,1150 1657,1155 C1650.3,1160 1642,1166.5 1637,1170 C1632,1173.5 1630.8,1175 1627,1176 C1623.2,1177 1618.7,1174.9 1614.5,1176 C1610.3,1177.1 1606.6,1179.8 1602,1182.5 C1597.4,1185.2 1592.8,1189.5 1587,1192.5 C1581.2,1195.5 1575,1198.6 1567.5,1200.7 C1560,1202.8 1549.3,1205.1 1542.3,1205 C1535.3,1204.9 1532.4,1203.3 1525.4,1199.9 C1518.4,1196.5 1509.9,1190.6 1500.1,1184.7 C1490.3,1178.8 1476,1169.6 1466.4,1164.5 C1456.8,1159.4 1448.9,1156.2 1442.2,1154 C1435.6,1151.7 1433.1,1151.6 1426.5,1150.8 C1419.9,1150 1412.1,1149.5 1402.9,1149.2 C1393.7,1148.9 1380.9,1148.9 1371.5,1149.2 C1362,1149.5 1350.5,1150.9 1346.3,1151.2" fill="none" stroke="#ff0000" stroke-width="1.8" stroke-linejoin="round" stroke-linecap="round"/>
<path d="M1346.3,1142.2 C1349.2,1141 1356.8,1137.2 1363.6,1135 C1370.4,1132.9 1379.3,1131.1 1387.2,1129.5 C1395.1,1128 1402.9,1126.8 1410.8,1125.6 C1418.7,1124.4 1426.5,1123.5 1434.4,1122.5 C1442.3,1121.4 1450.4,1120.4 1458,1119.3 C1465.6,1118.3 1473.5,1117.4 1480,1116.2 C1486.5,1115 1490.8,1114.3 1497,1112 C1503.2,1109.7 1510.3,1106.2 1517,1102.5 C1523.7,1098.8 1530.9,1093.8 1537,1090 C1543.1,1086.2 1548.5,1081.9 1553.5,1079.5 C1558.5,1077.2 1562.5,1076.1 1567,1076 C1571.4,1075.8 1576,1077 1580.5,1078.7 C1585,1080.3 1589.5,1083.9 1594,1085.8 C1598.4,1087.8 1603.7,1089.9 1607.4,1090.3 C1611.1,1090.8 1613.4,1090 1616.4,1088.5 C1619.4,1087 1622.9,1084.8 1625.4,1081.3 C1628,1077.9 1629.5,1072.3 1631.7,1067.8 C1634,1063.4 1636.2,1058.6 1638.9,1054.4 C1641.6,1050.2 1644.9,1045.2 1647.8,1042.7 C1650.8,1040.2 1653.5,1038.9 1656.8,1039.1 C1660.1,1039.2 1663.9,1043.1 1667.7,1043.6 C1671.4,1044.1 1675.9,1042.2 1679.3,1042.2 C1682.7,1042.2 1684.8,1042.9 1688.3,1043.6 C1691.8,1044.3 1696,1044.4 1700,1046.3 C1704,1048.2 1707.5,1051.5 1712,1055 C1716.5,1058.5 1722,1062.9 1727,1067.5 C1732,1072.1 1737,1077.9 1742,1082.5 C1747,1087.1 1752,1092.1 1757,1095 C1762,1097.9 1766.2,1098.6 1772,1100 C1777.8,1101.4 1784.5,1102.5 1792,1103.5 C1799.5,1104.5 1808.7,1106.2 1817,1106 C1825.3,1105.8 1833.7,1103.7 1842,1102.5 C1850.3,1101.3 1859.5,1100 1867,1099 C1874.5,1098 1881.3,1097.2 1887,1096.5 C1892.7,1095.8 1898.7,1095.2 1901,1095 M1901,1095 C1900.9,1096.2 1901.3,1099.6 1900.5,1102.5 C1899.7,1105.4 1898.2,1109.6 1896,1112.5 C1893.8,1115.4 1892.7,1118.5 1887,1120 C1881.3,1121.5 1870.3,1121.2 1862,1121.5 C1853.7,1121.8 1849.5,1121.8 1837,1122 C1824.5,1122.2 1803.7,1122.7 1787,1123 C1770.3,1123.3 1749.5,1123.5 1737,1124 C1724.5,1124.5 1719.5,1125 1712,1126 C1704.5,1127 1698.7,1127.7 1692,1130 C1685.3,1132.3 1677.8,1136.2 1672,1140 C1666.2,1143.8 1662,1148.3 1657,1152.5 C1652,1156.7 1646.2,1161.2 1642,1165 C1637.8,1168.8 1635.8,1173.2 1632,1175 C1628.2,1176.8 1623.2,1175.3 1619.5,1176 C1615.8,1176.7 1613.2,1177.1 1609.5,1179 C1605.8,1180.9 1600.8,1184.4 1597,1187.5 C1593.2,1190.6 1590.3,1195 1587,1197.5 C1583.7,1200 1579.9,1202.1 1577,1202.5 C1574.1,1202.9 1572,1202.1 1569.5,1200 C1567,1197.9 1564.9,1194.6 1562,1190 C1559.1,1185.4 1555.3,1177.9 1552,1172.5 C1548.7,1167.1 1546.2,1162.1 1542,1157.5 C1537.8,1152.9 1532.8,1147.9 1527,1145 C1521.2,1142.1 1514.8,1141.5 1507,1140 C1499.2,1138.5 1485.5,1136.8 1480,1135.8 C1474.5,1134.9 1477.4,1134.6 1473.7,1134.2 C1470,1133.9 1464.5,1133.5 1458,1133.5 C1451.5,1133.5 1443.6,1133.9 1434.4,1134.2 C1425.2,1134.6 1413.4,1135.2 1402.9,1135.8 C1392.4,1136.5 1380.9,1137.2 1371.5,1138.2 C1362,1139.2 1350.5,1141.5 1346.3,1142.2" fill="none" stroke="#000000" stroke-width="1.8" stroke-linejoin="round" stroke-linecap="round"/>
<line x1="201.4" y1="116.5" x2="277.5" y2="116.5" stroke="#000" stroke-width="3.2" stroke-linecap="butt"/>
<line x1="201.4" y1="157.8" x2="277.5" y2="157.8" stroke="#f00" stroke-width="3.2" stroke-linecap="butt"/>
<line x1="201.4" y1="198.5" x2="277.5" y2="198.5" stroke="#00f" stroke-width="3.2" stroke-linecap="butt"/>
<text x="285" y="128.3" font-size="32.9" text-anchor="start" font-weight="bold" font-family='"Liberation Sans", Arial, sans-serif'>5% graphene</text>
<text x="285" y="169.6" font-size="32.9" text-anchor="start" font-weight="bold" font-family='"Liberation Sans", Arial, sans-serif'>15% graphene</text>
<text x="285" y="210" font-size="32.9" text-anchor="start" font-weight="bold" font-family='"Liberation Sans", Arial, sans-serif'>30% graphene</text>
<line x1="1253.5" y1="102.2" x2="1323.3" y2="102.2" stroke="#00f" stroke-width="3.4" stroke-linecap="butt"/>
<text x="1329.2" y="111.6" font-size="29.6" text-anchor="start" font-family='"Liberation Sans", Arial, sans-serif'>0.1 mVs</text>
<text x="1438.4" y="95.3" font-size="16" text-anchor="start" font-family='"Liberation Sans", Arial, sans-serif'>-1</text>
<text x="1606.8" y="119.8" font-size="29.5" text-anchor="start" font-family='"Liberation Sans", Arial, sans-serif'>-0.22 V</text>
<text x="1495.6" y="179.8" font-size="29.5" text-anchor="start" font-family='"Liberation Sans", Arial, sans-serif'>-0.42 V</text>
<text x="1628.8" y="494.8" font-size="29.5" text-anchor="start" font-family='"Liberation Sans", Arial, sans-serif'>-0.27 V</text>
<text x="1528.6" y="603.6" font-size="29.5" text-anchor="start" font-family='"Liberation Sans", Arial, sans-serif'>-0.40 V</text>
<line x1="201" y1="871" x2="259" y2="871" stroke="#000" stroke-width="3.2" stroke-linecap="butt"/>
<line x1="201" y1="903" x2="259" y2="903" stroke="#f00" stroke-width="3.2" stroke-linecap="butt"/>
<line x1="201" y1="935" x2="259" y2="935" stroke="#00f" stroke-width="3.2" stroke-linecap="butt"/>
<text x="266" y="879" font-size="24.9" text-anchor="start" font-weight="bold" font-family='"Liberation Sans", Arial, sans-serif'>1 cycle</text>
<text x="266" y="911" font-size="24.9" text-anchor="start" font-weight="bold" font-family='"Liberation Sans", Arial, sans-serif'>50 cycles</text>
<text x="266" y="943.5" font-size="24.9" text-anchor="start" font-weight="bold" font-family='"Liberation Sans", Arial, sans-serif'>100 cycles</text>
<text x="583.2" y="850" font-size="27.2" text-anchor="start" font-family='"Liberation Sans", Arial, sans-serif'>-0.22 V</text>
<text x="483.2" y="919" font-size="27.2" text-anchor="start" font-family='"Liberation Sans", Arial, sans-serif'>-0.42 V</text>
<text x="603.2" y="941" font-size="27.2" text-anchor="start" font-family='"Liberation Sans", Arial, sans-serif'>-0.26 V</text>
<text x="453.2" y="981" font-size="27.2" text-anchor="start" font-family='"Liberation Sans", Arial, sans-serif'>-0.44 V</text>
<text x="611.7" y="994" font-size="27.2" text-anchor="start" font-family='"Liberation Sans", Arial, sans-serif'>-0.30 V</text>
<text x="417.7" y="1011" font-size="27.2" text-anchor="start" font-family='"Liberation Sans", Arial, sans-serif'>-0.46 V</text>
<text x="523.2" y="1172.5" font-size="27.2" text-anchor="start" font-family='"Liberation Sans", Arial, sans-serif'>-0.38 V</text>
<text x="488.2" y="1226" font-size="27.2" text-anchor="start" font-family='"Liberation Sans", Arial, sans-serif'>-0.39 V</text>
<text x="609.2" y="1219" font-size="27.2" text-anchor="start" font-family='"Liberation Sans", Arial, sans-serif'>-0.27 V</text>
<text x="488.2" y="1336" font-size="27.2" text-anchor="start" font-family='"Liberation Sans", Arial, sans-serif'>-0.40 V</text>
<text x="816.9" y="886" font-size="27" text-anchor="start" font-family='"Liberation Sans", Arial, sans-serif'>1 cycle</text>
<text x="828" y="951" font-size="27" text-anchor="start" font-family='"Liberation Sans", Arial, sans-serif'>50 cycles</text>
<text x="740.2" y="1210" font-size="27" text-anchor="start" font-family='"Liberation Sans", Arial, sans-serif'>100 cycles</text>
<line x1="794" y1="882.5" x2="705.7" y2="912.9" stroke="#000" stroke-width="1.8" stroke-linecap="butt"/>
<polygon points="692.5,917.5 705.8,907.1 709.4,917.5" fill="#000"/>
<line x1="822.5" y1="947.5" x2="697.8" y2="1001.9" stroke="#000" stroke-width="1.8" stroke-linecap="butt"/>
<polygon points="685,1007.5 697.5,996.1 701.9,1006.1" fill="#000"/>
<line x1="724" y1="1190" x2="588" y2="1134.3" stroke="#000" stroke-width="1.8" stroke-linecap="butt"/>
<polygon points="575,1129 591.9,1130 587.7,1140.2" fill="#000"/>
<line x1="1260.1" y1="886.3" x2="1326.4" y2="886.3" stroke="#000" stroke-width="1.8" stroke-linecap="butt"/>
<text x="1333.6" y="896.2" font-size="28.9" text-anchor="start" font-family='"Liberation Sans", Arial, sans-serif'>0.1 mVs</text>
<text x="1439" y="879.8" font-size="16" text-anchor="start" font-family='"Liberation Sans", Arial, sans-serif'>-1</text>
<line x1="1260.1" y1="927.7" x2="1326.4" y2="927.7" stroke="#f00" stroke-width="1.8" stroke-linecap="butt"/>
<text x="1333.6" y="937.6" font-size="28.9" text-anchor="start" font-family='"Liberation Sans", Arial, sans-serif'>0.2 mVs</text>
<text x="1439" y="921.2" font-size="16" text-anchor="start" font-family='"Liberation Sans", Arial, sans-serif'>-1</text>
<line x1="1260.1" y1="969.1" x2="1326.4" y2="969.1" stroke="#00f" stroke-width="1.8" stroke-linecap="butt"/>
<text x="1333.6" y="979" font-size="28.9" text-anchor="start" font-family='"Liberation Sans", Arial, sans-serif'>0.4 mVs</text>
<text x="1439" y="962.6" font-size="16" text-anchor="start" font-family='"Liberation Sans", Arial, sans-serif'>-1</text>
<line x1="1260.1" y1="1010.5" x2="1326.4" y2="1010.5" stroke="#008080" stroke-width="1.8" stroke-linecap="butt"/>
<text x="1333.6" y="1020.4" font-size="28.9" text-anchor="start" font-family='"Liberation Sans", Arial, sans-serif'>0.6 mVs</text>
<text x="1439" y="1004" font-size="16" text-anchor="start" font-family='"Liberation Sans", Arial, sans-serif'>-1</text>
<line x1="1260.1" y1="1051.9" x2="1326.4" y2="1051.9" stroke="#f0f" stroke-width="1.8" stroke-linecap="butt"/>
<text x="1333.6" y="1061.8" font-size="28.9" text-anchor="start" font-family='"Liberation Sans", Arial, sans-serif'>0.8 mVs</text>
<text x="1439" y="1045.4" font-size="16" text-anchor="start" font-family='"Liberation Sans", Arial, sans-serif'>-1</text>
<line x1="1260.1" y1="1093.3" x2="1326.4" y2="1093.3" stroke="#808000" stroke-width="1.8" stroke-linecap="butt"/>
<text x="1333.6" y="1103.2" font-size="28.9" text-anchor="start" font-family='"Liberation Sans", Arial, sans-serif'>1.0 mVs</text>
<text x="1439" y="1086.8" font-size="16" text-anchor="start" font-family='"Liberation Sans", Arial, sans-serif'>-1</text>
<line x1="297.5" y1="1939.9" x2="799.9" y2="1764.9" stroke="#000" stroke-width="3" stroke-linecap="butt"/>
<line x1="276.9" y1="2037.6" x2="819.5" y2="2191.1" stroke="#000" stroke-width="2" stroke-linecap="butt"/>
<rect x="285.1" y="1937.6" width="15" height="15" fill="#000"/>
<rect x="382.8" y="1913.8" width="15" height="15" fill="#000"/>
<rect x="520.7" y="1838.2" width="15" height="15" fill="#000"/>
<rect x="626.6" y="1804.6" width="15" height="15" fill="#000"/>
<rect x="716.2" y="1789" width="15" height="15" fill="#000"/>
<rect x="795" y="1781.8" width="15" height="15" fill="#000"/>
<circle cx="292.6" cy="2075.4" r="8.2" fill="#f00"/>
<circle cx="390.3" cy="2077.7" r="8.2" fill="#f00"/>
<circle cx="528.2" cy="2113.5" r="8.2" fill="#f00"/>
<circle cx="634.1" cy="2146.4" r="8.2" fill="#f00"/>
<circle cx="723.7" cy="2186.8" r="8.2" fill="#f00"/>
<circle cx="802.5" cy="2189.1" r="8.2" fill="#f00"/>
<rect x="229.8" y="1665.6" width="15" height="15" fill="#000"/>
<circle cx="237.5" cy="1710.9" r="8.2" fill="#f00"/>
<text x="280.2" y="1683.7" font-size="30.8" text-anchor="start" font-family='"Liberation Sans", Arial, sans-serif'>Anodic peaks</text>
<text x="280.2" y="1720.9" font-size="30.8" text-anchor="start" font-family='"Liberation Sans", Arial, sans-serif'>Cathodic peaks</text>
<defs><clipPath id="cf"><rect x="1186.8" y="1590.3" width="824.7" height="665.2"/></clipPath></defs>
<g clip-path="url(#cf)">
<polyline points="1354.5,2129.5 1354,2118 1354.5,2110 1355.5,2102 1357,2094 1359,2086 1362,2078 1366.4,2070.9 1371.5,2063.6 1376.7,2054.4 1383.2,2044.6 1390.9,2035.1 1400.8,2023.7 1411.7,2012.8 1424.1,2000.7 1439.1,1989 1456.3,1977.7 1474.9,1967.5 1496.2,1958.4 1518.4,1950.8 1542.2,1945.2 1566,1942.4 1590.2,1941.7 1614,1943 1636.5,1946 1658.5,1950.8 1678.3,1956.2 1697,1962 1714,1967.9 1729,1973.2 1743.4,1977.5 1756.7,1980.7 1769,1982.3 1780,1982.5 1790.9,1981.2 1801.6,1978 1811.7,1970.6 1822.4,1962.6 1833.6,1950.8 1843.5,1934 1853.9,1916.3 1865.7,1893.8 1879,1865.4 1893.3,1831 1909.1,1790.6 1927.9,1741.9 1949.7,1683.4 1974.8,1614.4 1983.6,1586.2" fill="none" stroke="#000" stroke-width="2" stroke-linejoin="round"/>
<rect x="1347.2" y="2122.2" width="14.6" height="14.6" fill="#000"/>
<rect x="1346.7" y="2110.7" width="14.6" height="14.6" fill="#000"/>
<rect x="1347.2" y="2102.7" width="14.6" height="14.6" fill="#000"/>
<rect x="1348.2" y="2094.7" width="14.6" height="14.6" fill="#000"/>
<rect x="1349.7" y="2086.7" width="14.6" height="14.6" fill="#000"/>
<rect x="1351.7" y="2078.7" width="14.6" height="14.6" fill="#000"/>
<rect x="1354.7" y="2070.7" width="14.6" height="14.6" fill="#000"/>
<rect x="1359.1" y="2063.6" width="14.6" height="14.6" fill="#000"/>
<rect x="1364.2" y="2056.3" width="14.6" height="14.6" fill="#000"/>
<rect x="1369.4" y="2047.1" width="14.6" height="14.6" fill="#000"/>
<rect x="1375.9" y="2037.3" width="14.6" height="14.6" fill="#000"/>
<rect x="1383.6" y="2027.8" width="14.6" height="14.6" fill="#000"/>
<rect x="1393.5" y="2016.4" width="14.6" height="14.6" fill="#000"/>
<rect x="1404.4" y="2005.5" width="14.6" height="14.6" fill="#000"/>
<rect x="1416.8" y="1993.4" width="14.6" height="14.6" fill="#000"/>
<rect x="1431.8" y="1981.7" width="14.6" height="14.6" fill="#000"/>
<rect x="1449" y="1970.4" width="14.6" height="14.6" fill="#000"/>
<rect x="1467.6" y="1960.2" width="14.6" height="14.6" fill="#000"/>
<rect x="1488.9" y="1951.1" width="14.6" height="14.6" fill="#000"/>
<rect x="1511.1" y="1943.5" width="14.6" height="14.6" fill="#000"/>
<rect x="1534.9" y="1937.9" width="14.6" height="14.6" fill="#000"/>
<rect x="1558.7" y="1935.1" width="14.6" height="14.6" fill="#000"/>
<rect x="1582.9" y="1934.4" width="14.6" height="14.6" fill="#000"/>
<rect x="1606.7" y="1935.7" width="14.6" height="14.6" fill="#000"/>
<rect x="1629.2" y="1938.7" width="14.6" height="14.6" fill="#000"/>
<rect x="1651.2" y="1943.5" width="14.6" height="14.6" fill="#000"/>
<rect x="1671" y="1948.9" width="14.6" height="14.6" fill="#000"/>
<rect x="1689.7" y="1954.7" width="14.6" height="14.6" fill="#000"/>
<rect x="1706.7" y="1960.6" width="14.6" height="14.6" fill="#000"/>
<rect x="1721.7" y="1965.9" width="14.6" height="14.6" fill="#000"/>
<rect x="1736.1" y="1970.2" width="14.6" height="14.6" fill="#000"/>
<rect x="1749.4" y="1973.4" width="14.6" height="14.6" fill="#000"/>
<rect x="1761.7" y="1975" width="14.6" height="14.6" fill="#000"/>
<rect x="1772.7" y="1975.2" width="14.6" height="14.6" fill="#000"/>
<rect x="1783.6" y="1973.9" width="14.6" height="14.6" fill="#000"/>
<rect x="1794.3" y="1970.7" width="14.6" height="14.6" fill="#000"/>
<rect x="1804.4" y="1963.3" width="14.6" height="14.6" fill="#000"/>
<rect x="1815.1" y="1955.3" width="14.6" height="14.6" fill="#000"/>
<rect x="1826.3" y="1943.5" width="14.6" height="14.6" fill="#000"/>
<rect x="1836.2" y="1926.7" width="14.6" height="14.6" fill="#000"/>
<rect x="1846.6" y="1909" width="14.6" height="14.6" fill="#000"/>
<rect x="1858.4" y="1886.5" width="14.6" height="14.6" fill="#000"/>
<rect x="1871.7" y="1858.1" width="14.6" height="14.6" fill="#000"/>
<rect x="1886" y="1823.7" width="14.6" height="14.6" fill="#000"/>
<rect x="1901.8" y="1783.3" width="14.6" height="14.6" fill="#000"/>
<rect x="1920.6" y="1734.6" width="14.6" height="14.6" fill="#000"/>
<rect x="1942.4" y="1676.1" width="14.6" height="14.6" fill="#000"/>
<rect x="1967.5" y="1607.1" width="14.6" height="14.6" fill="#000"/>
<rect x="1976.3" y="1578.9" width="14.6" height="14.6" fill="#000"/>
<polyline points="1360.2,2131.7 1360.8,2120.4 1362.7,2107.8 1366.4,2095.3 1370.2,2082.7 1374.6,2070.2 1379.6,2060.8 1385.9,2048 1394,2030 1407,2017.2 1419.8,2004.4 1435.1,1992 1453.4,1980.3 1474.2,1970.4 1497.2,1962.9 1521.5,1958.9 1545.7,1958.4 1569.5,1960.9 1592,1966.5 1612.7,1974.3 1631.4,1983.4 1647.4,1993.3 1660.5,2003.7 1674,2013.3 1684.2,2021.8 1694.8,2031 1703.4,2045.3 1708.5,2049.8 1714,2053.8 1719.5,2057 1724.7,2059.7 1730,2062.3 1735.4,2064.5 1740.5,2066.2 1746,2067.7 1751.5,2069 1756.7,2069.8 1762,2069.8 1767.4,2069.3 1772.8,2068.5 1778.1,2067.2 1783.5,2065.5 1788.8,2063.4 1794,2061 1799.4,2058.6 1804.7,2055.8 1810.1,2052.8 1815.4,2049.7 1820.8,2046.4 1826,2042.3 1831.5,2037.8 1836,2033.5 1840,2029.5 1845.6,2028 1849.5,2024 1853.1,2020.5 1857.5,2015.5 1861.9,2010.5 1866,2004 1870.7,1997.9 1885.7,1991.6 1893.3,1980.3 1908.3,1962.8 1917.1,1950.2 1933.4,1935.2 1954.8,1912.6" fill="none" stroke="#f00" stroke-width="2" stroke-linejoin="round"/>
<circle cx="1360.2" cy="2131.7" r="8.3" fill="#f00"/>
<circle cx="1360.8" cy="2120.4" r="8.3" fill="#f00"/>
<circle cx="1362.7" cy="2107.8" r="8.3" fill="#f00"/>
<circle cx="1366.4" cy="2095.3" r="8.3" fill="#f00"/>
<circle cx="1370.2" cy="2082.7" r="8.3" fill="#f00"/>
<circle cx="1374.6" cy="2070.2" r="8.3" fill="#f00"/>
<circle cx="1379.6" cy="2060.8" r="8.3" fill="#f00"/>
<circle cx="1385.9" cy="2048" r="8.3" fill="#f00"/>
<circle cx="1394" cy="2030" r="8.3" fill="#f00"/>
<circle cx="1407" cy="2017.2" r="8.3" fill="#f00"/>
<circle cx="1419.8" cy="2004.4" r="8.3" fill="#f00"/>
<circle cx="1435.1" cy="1992" r="8.3" fill="#f00"/>
<circle cx="1453.4" cy="1980.3" r="8.3" fill="#f00"/>
<circle cx="1474.2" cy="1970.4" r="8.3" fill="#f00"/>
<circle cx="1497.2" cy="1962.9" r="8.3" fill="#f00"/>
<circle cx="1521.5" cy="1958.9" r="8.3" fill="#f00"/>
<circle cx="1545.7" cy="1958.4" r="8.3" fill="#f00"/>
<circle cx="1569.5" cy="1960.9" r="8.3" fill="#f00"/>
<circle cx="1592" cy="1966.5" r="8.3" fill="#f00"/>
<circle cx="1612.7" cy="1974.3" r="8.3" fill="#f00"/>
<circle cx="1631.4" cy="1983.4" r="8.3" fill="#f00"/>
<circle cx="1647.4" cy="1993.3" r="8.3" fill="#f00"/>
<circle cx="1660.5" cy="2003.7" r="8.3" fill="#f00"/>
<circle cx="1674" cy="2013.3" r="8.3" fill="#f00"/>
<circle cx="1684.2" cy="2021.8" r="8.3" fill="#f00"/>
<circle cx="1694.8" cy="2031" r="8.3" fill="#f00"/>
<circle cx="1703.4" cy="2045.3" r="8.3" fill="#f00"/>
<circle cx="1708.5" cy="2049.8" r="8.3" fill="#f00"/>
<circle cx="1714" cy="2053.8" r="8.3" fill="#f00"/>
<circle cx="1719.5" cy="2057" r="8.3" fill="#f00"/>
<circle cx="1724.7" cy="2059.7" r="8.3" fill="#f00"/>
<circle cx="1730" cy="2062.3" r="8.3" fill="#f00"/>
<circle cx="1735.4" cy="2064.5" r="8.3" fill="#f00"/>
<circle cx="1740.5" cy="2066.2" r="8.3" fill="#f00"/>
<circle cx="1746" cy="2067.7" r="8.3" fill="#f00"/>
<circle cx="1751.5" cy="2069" r="8.3" fill="#f00"/>
<circle cx="1756.7" cy="2069.8" r="8.3" fill="#f00"/>
<circle cx="1762" cy="2069.8" r="8.3" fill="#f00"/>
<circle cx="1767.4" cy="2069.3" r="8.3" fill="#f00"/>
<circle cx="1772.8" cy="2068.5" r="8.3" fill="#f00"/>
<circle cx="1778.1" cy="2067.2" r="8.3" fill="#f00"/>
<circle cx="1783.5" cy="2065.5" r="8.3" fill="#f00"/>
<circle cx="1788.8" cy="2063.4" r="8.3" fill="#f00"/>
<circle cx="1794" cy="2061" r="8.3" fill="#f00"/>
<circle cx="1799.4" cy="2058.6" r="8.3" fill="#f00"/>
<circle cx="1804.7" cy="2055.8" r="8.3" fill="#f00"/>
<circle cx="1810.1" cy="2052.8" r="8.3" fill="#f00"/>
<circle cx="1815.4" cy="2049.7" r="8.3" fill="#f00"/>
<circle cx="1820.8" cy="2046.4" r="8.3" fill="#f00"/>
<circle cx="1826" cy="2042.3" r="8.3" fill="#f00"/>
<circle cx="1831.5" cy="2037.8" r="8.3" fill="#f00"/>
<circle cx="1836" cy="2033.5" r="8.3" fill="#f00"/>
<circle cx="1840" cy="2029.5" r="8.3" fill="#f00"/>
<circle cx="1845.6" cy="2028" r="8.3" fill="#f00"/>
<circle cx="1849.5" cy="2024" r="8.3" fill="#f00"/>
<circle cx="1853.1" cy="2020.5" r="8.3" fill="#f00"/>
<circle cx="1857.5" cy="2015.5" r="8.3" fill="#f00"/>
<circle cx="1861.9" cy="2010.5" r="8.3" fill="#f00"/>
<circle cx="1866" cy="2004" r="8.3" fill="#f00"/>
<circle cx="1870.7" cy="1997.9" r="8.3" fill="#f00"/>
<circle cx="1885.7" cy="1991.6" r="8.3" fill="#f00"/>
<circle cx="1893.3" cy="1980.3" r="8.3" fill="#f00"/>
<circle cx="1908.3" cy="1962.8" r="8.3" fill="#f00"/>
<circle cx="1917.1" cy="1950.2" r="8.3" fill="#f00"/>
<circle cx="1933.4" cy="1935.2" r="8.3" fill="#f00"/>
<circle cx="1954.8" cy="1912.6" r="8.3" fill="#f00"/>
<polyline points="1345,2120.7 1350.2,2119.4 1348.5,2112 1348,2106 1349,2100.5 1351.5,2094 1354,2088.5 1358.3,2080.5 1362.7,2074.2 1367.1,2066.7 1372.1,2060.4 1380.9,2052.3 1394.1,2041 1405.4,2033.5 1418.7,2027.5 1432.2,2022.8 1446,2019.8 1461,2018 1475.6,2018 1490.1,2019.5 1503,2022.5 1516.2,2025.5 1527.5,2029.6 1538.1,2034.1 1548.3,2037.7 1560.4,2040.2 1568.8,2043.7 1576.6,2046.8 1583.6,2049.8 1590.7,2051.8 1597.8,2053.3 1604.9,2054.8 1611.3,2055.4 1617.5,2055.9 1624.6,2054.8 1631.2,2053.8 1638.3,2052.8 1644.8,2051.3 1651.9,2049.8 1659.6,2047.4 1667.1,2044.2 1675.1,2039.9 1683.1,2037.2 1692.7,2033 1701.8,2029.2 1710.8,2023.9 1721,2019.1 1732.2,2013.2 1743.4,2006.8 1753.5,1999.9 1763.2,1992.4 1791.4,1975.9 1806.4,1959.8 1820.8,1946.5 1840.6,1932.7 1887,1891.2 1914.6,1847.3 1927.7,1819.4 1948.5,1801.8" fill="none" stroke="#00f" stroke-width="2" stroke-linejoin="round"/>
<polygon points="1345,2112.2 1355,2129.2 1335,2129.2" fill="#00f"/>
<polygon points="1350.2,2110.9 1360.2,2127.9 1340.2,2127.9" fill="#00f"/>
<polygon points="1348.5,2103.5 1358.5,2120.5 1338.5,2120.5" fill="#00f"/>
<polygon points="1348,2097.5 1358,2114.5 1338,2114.5" fill="#00f"/>
<polygon points="1349,2092 1359,2109 1339,2109" fill="#00f"/>
<polygon points="1351.5,2085.5 1361.5,2102.5 1341.5,2102.5" fill="#00f"/>
<polygon points="1354,2080 1364,2097 1344,2097" fill="#00f"/>
<polygon points="1358.3,2072 1368.3,2089 1348.3,2089" fill="#00f"/>
<polygon points="1362.7,2065.7 1372.7,2082.7 1352.7,2082.7" fill="#00f"/>
<polygon points="1367.1,2058.2 1377.1,2075.2 1357.1,2075.2" fill="#00f"/>
<polygon points="1372.1,2051.9 1382.1,2068.9 1362.1,2068.9" fill="#00f"/>
<polygon points="1380.9,2043.8 1390.9,2060.8 1370.9,2060.8" fill="#00f"/>
<polygon points="1394.1,2032.5 1404.1,2049.5 1384.1,2049.5" fill="#00f"/>
<polygon points="1405.4,2025 1415.4,2042 1395.4,2042" fill="#00f"/>
<polygon points="1418.7,2019 1428.7,2036 1408.7,2036" fill="#00f"/>
<polygon points="1432.2,2014.3 1442.2,2031.3 1422.2,2031.3" fill="#00f"/>
<polygon points="1446,2011.3 1456,2028.3 1436,2028.3" fill="#00f"/>
<polygon points="1461,2009.5 1471,2026.5 1451,2026.5" fill="#00f"/>
<polygon points="1475.6,2009.5 1485.6,2026.5 1465.6,2026.5" fill="#00f"/>
<polygon points="1490.1,2011 1500.1,2028 1480.1,2028" fill="#00f"/>
<polygon points="1503,2014 1513,2031 1493,2031" fill="#00f"/>
<polygon points="1516.2,2017 1526.2,2034 1506.2,2034" fill="#00f"/>
<polygon points="1527.5,2021.1 1537.5,2038.1 1517.5,2038.1" fill="#00f"/>
<polygon points="1538.1,2025.6 1548.1,2042.6 1528.1,2042.6" fill="#00f"/>
<polygon points="1548.3,2029.2 1558.3,2046.2 1538.3,2046.2" fill="#00f"/>
<polygon points="1560.4,2031.7 1570.4,2048.7 1550.4,2048.7" fill="#00f"/>
<polygon points="1568.8,2035.2 1578.8,2052.2 1558.8,2052.2" fill="#00f"/>
<polygon points="1576.6,2038.3 1586.6,2055.3 1566.6,2055.3" fill="#00f"/>
<polygon points="1583.6,2041.3 1593.6,2058.3 1573.6,2058.3" fill="#00f"/>
<polygon points="1590.7,2043.3 1600.7,2060.3 1580.7,2060.3" fill="#00f"/>
<polygon points="1597.8,2044.8 1607.8,2061.8 1587.8,2061.8" fill="#00f"/>
<polygon points="1604.9,2046.3 1614.9,2063.3 1594.9,2063.3" fill="#00f"/>
<polygon points="1611.3,2046.9 1621.3,2063.9 1601.3,2063.9" fill="#00f"/>
<polygon points="1617.5,2047.4 1627.5,2064.4 1607.5,2064.4" fill="#00f"/>
<polygon points="1624.6,2046.3 1634.6,2063.3 1614.6,2063.3" fill="#00f"/>
<polygon points="1631.2,2045.3 1641.2,2062.3 1621.2,2062.3" fill="#00f"/>
<polygon points="1638.3,2044.3 1648.3,2061.3 1628.3,2061.3" fill="#00f"/>
<polygon points="1644.8,2042.8 1654.8,2059.8 1634.8,2059.8" fill="#00f"/>
<polygon points="1651.9,2041.3 1661.9,2058.3 1641.9,2058.3" fill="#00f"/>
<polygon points="1659.6,2038.9 1669.6,2055.9 1649.6,2055.9" fill="#00f"/>
<polygon points="1667.1,2035.7 1677.1,2052.7 1657.1,2052.7" fill="#00f"/>
<polygon points="1675.1,2031.4 1685.1,2048.4 1665.1,2048.4" fill="#00f"/>
<polygon points="1683.1,2028.7 1693.1,2045.7 1673.1,2045.7" fill="#00f"/>
<polygon points="1692.7,2024.5 1702.7,2041.5 1682.7,2041.5" fill="#00f"/>
<polygon points="1701.8,2020.7 1711.8,2037.7 1691.8,2037.7" fill="#00f"/>
<polygon points="1710.8,2015.4 1720.8,2032.4 1700.8,2032.4" fill="#00f"/>
<polygon points="1721,2010.6 1731,2027.6 1711,2027.6" fill="#00f"/>
<polygon points="1732.2,2004.7 1742.2,2021.7 1722.2,2021.7" fill="#00f"/>
<polygon points="1743.4,1998.3 1753.4,2015.3 1733.4,2015.3" fill="#00f"/>
<polygon points="1753.5,1991.4 1763.5,2008.4 1743.5,2008.4" fill="#00f"/>
<polygon points="1763.2,1983.9 1773.2,2000.9 1753.2,2000.9" fill="#00f"/>
<polygon points="1791.4,1967.4 1801.4,1984.4 1781.4,1984.4" fill="#00f"/>
<polygon points="1806.4,1951.3 1816.4,1968.3 1796.4,1968.3" fill="#00f"/>
<polygon points="1820.8,1938 1830.8,1955 1810.8,1955" fill="#00f"/>
<polygon points="1840.6,1924.2 1850.6,1941.2 1830.6,1941.2" fill="#00f"/>
<polygon points="1887,1882.7 1897,1899.7 1877,1899.7" fill="#00f"/>
<polygon points="1914.6,1838.8 1924.6,1855.8 1904.6,1855.8" fill="#00f"/>
<polygon points="1927.7,1810.9 1937.7,1827.9 1917.7,1827.9" fill="#00f"/>
<polygon points="1948.5,1793.3 1958.5,1810.3 1938.5,1810.3" fill="#00f"/>
</g>
<line x1="1209.6" y1="1685.8" x2="1282.5" y2="1685.8" stroke="#000" stroke-width="2" stroke-linecap="butt"/>
<line x1="1209.6" y1="1725.1" x2="1282.5" y2="1725.1" stroke="#f00" stroke-width="2" stroke-linecap="butt"/>
<line x1="1209.6" y1="1764.1" x2="1282.5" y2="1764.1" stroke="#00f" stroke-width="2" stroke-linecap="butt"/>
<rect x="1238.2" y="1678" width="15.5" height="15.5" fill="#000"/>
<circle cx="1246" cy="1725" r="8.7" fill="#f00"/>
<polygon points="1246,1752 1256.5,1770 1235.5,1770" fill="#00f"/>
<text x="1290" y="1696.4" font-size="31.8" text-anchor="start" font-family='"Liberation Sans", Arial, sans-serif'>after 100 cycles</text>
<text x="1290" y="1735.3" font-size="31.8" text-anchor="start" font-family='"Liberation Sans", Arial, sans-serif'>after 50 cycles</text>
<text x="1290" y="1774.3" font-size="31.8" text-anchor="start" font-family='"Liberation Sans", Arial, sans-serif'>before cycle</text>
</svg></body></html>
